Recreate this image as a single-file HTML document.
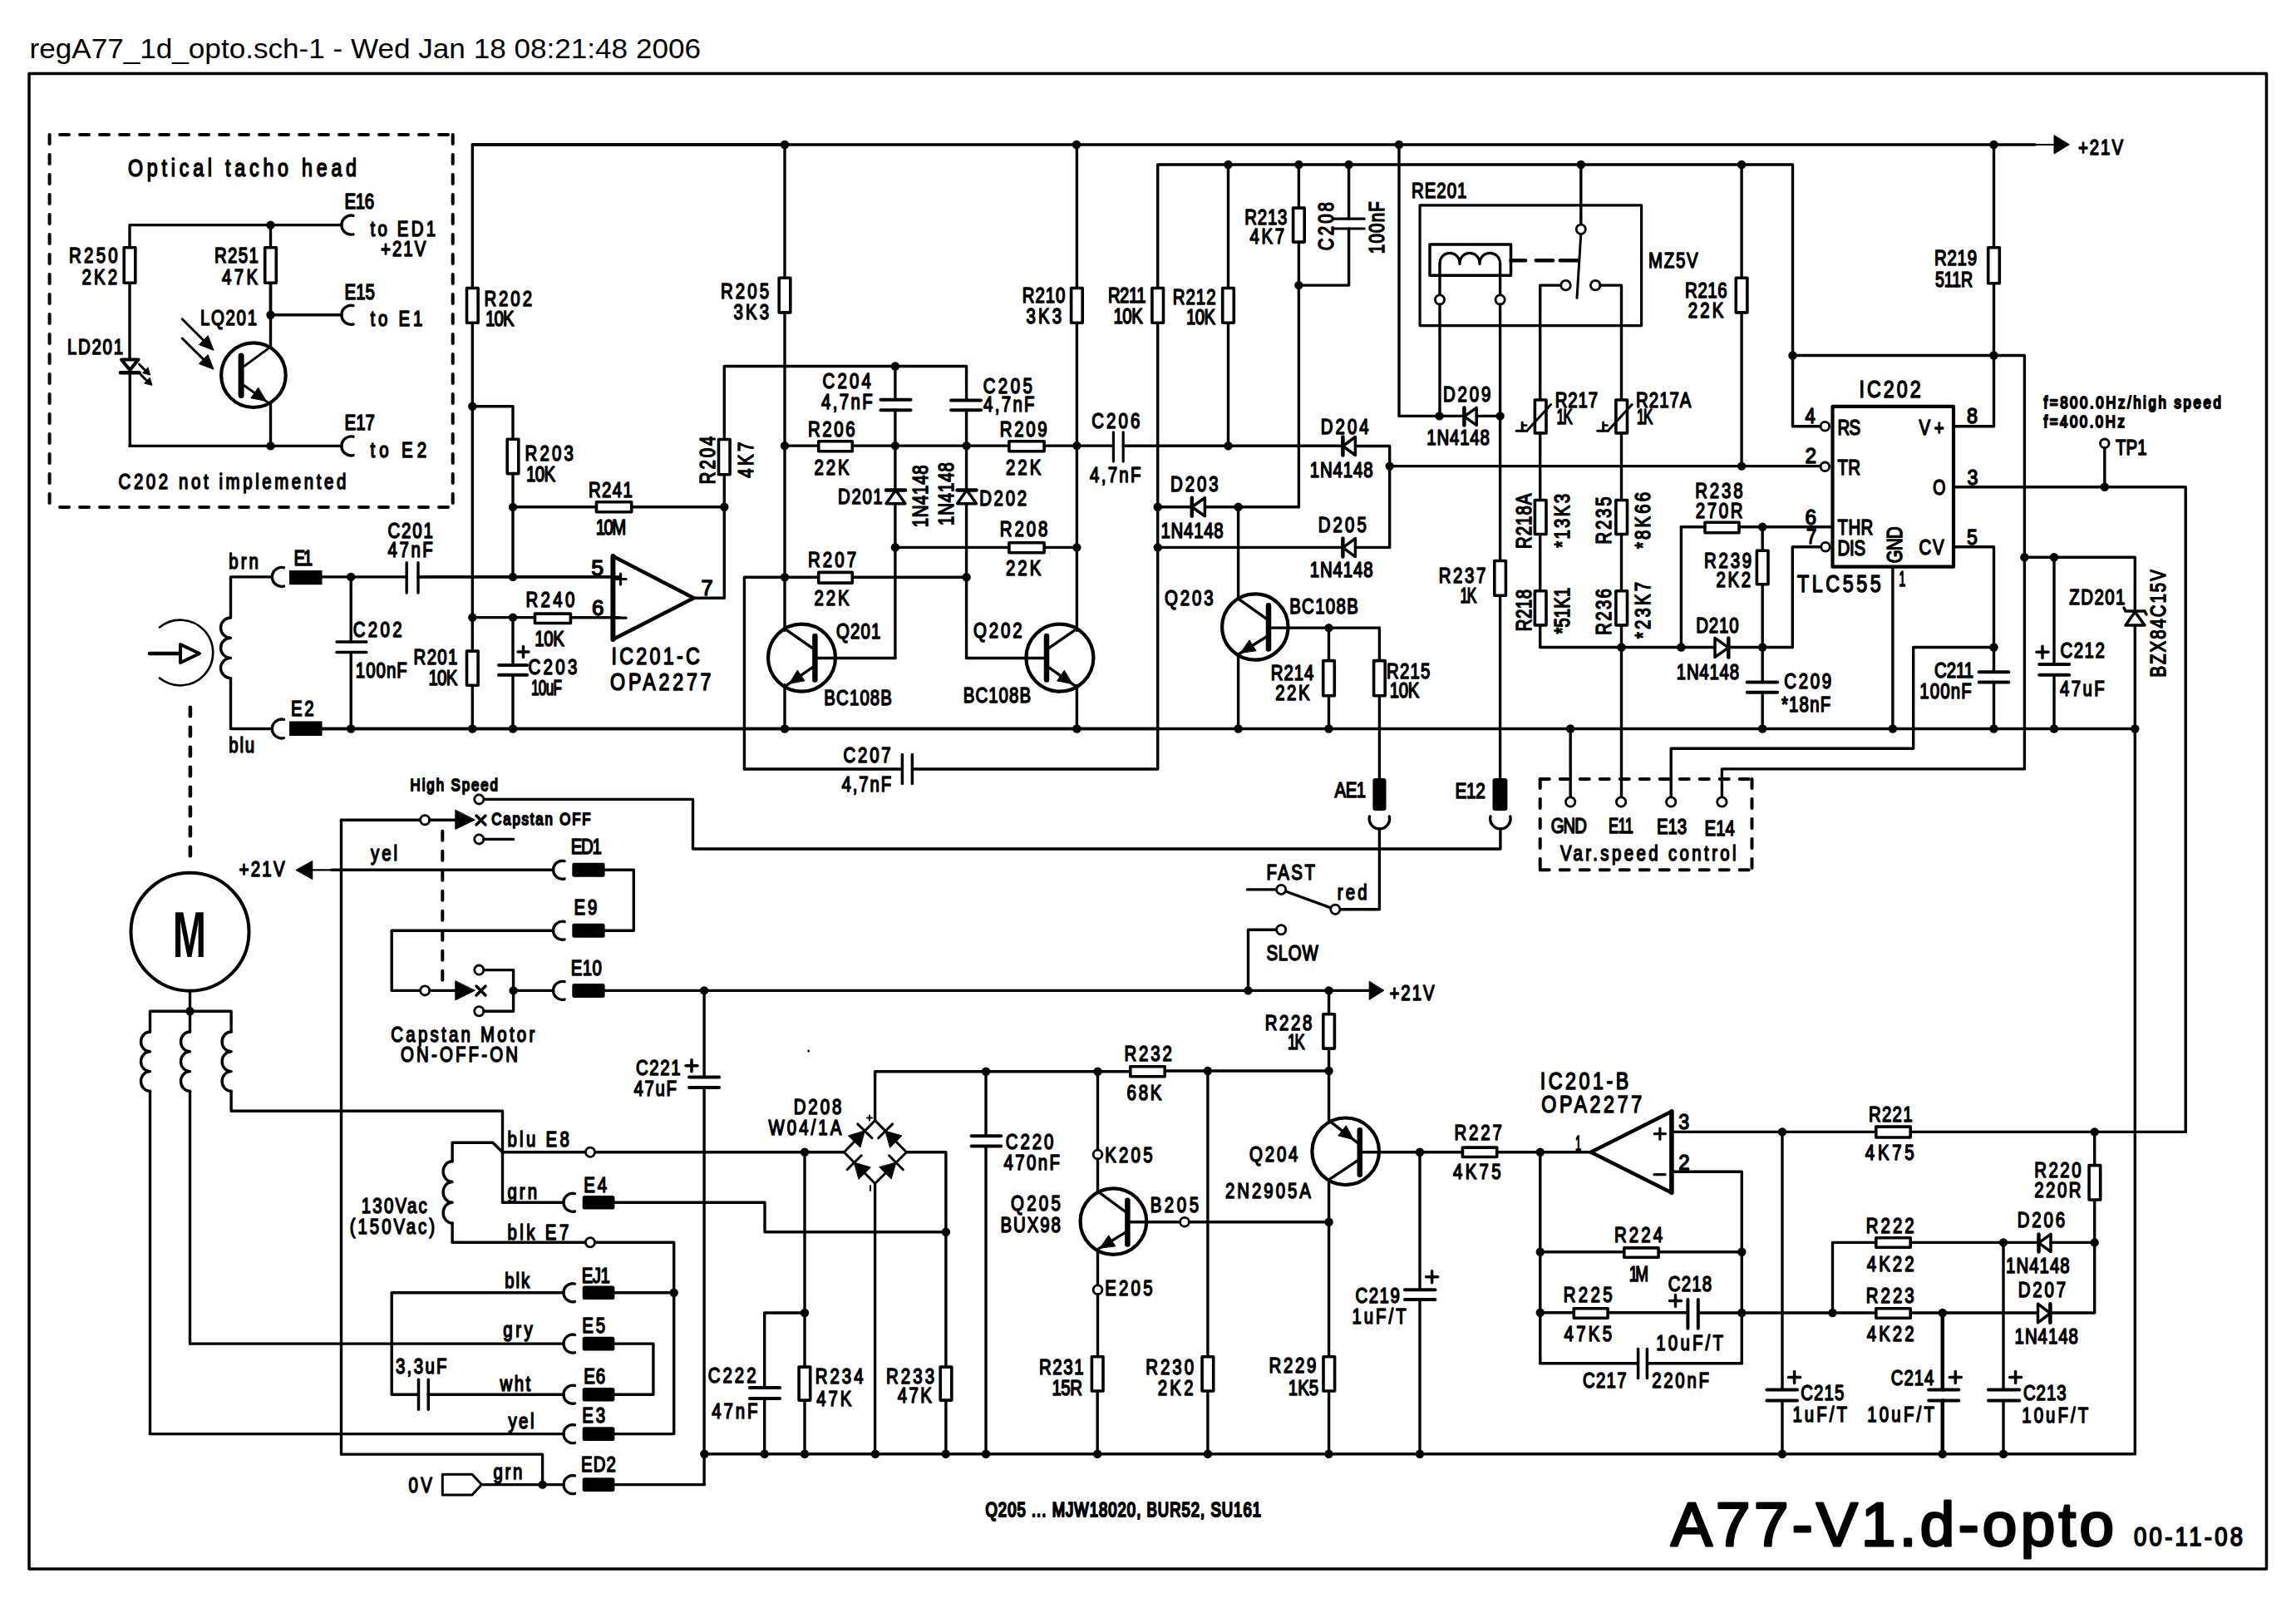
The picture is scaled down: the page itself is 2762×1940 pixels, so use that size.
<!DOCTYPE html>
<html><head><meta charset="utf-8"><title>A77-V1.d-opto</title>
<style>
html,body{margin:0;padding:0;background:#fff;}
svg{display:block;}
.t{font-family:"Liberation Sans",sans-serif;font-weight:normal;font-size:25.5px;fill:#000;stroke:#000;stroke-width:1.4px;stroke-linejoin:round;vector-effect:non-scaling-stroke;}
.sb{font-family:"Liberation Sans",sans-serif;font-weight:bold;fill:#000;stroke:none;}
.r{font-family:"Liberation Sans",sans-serif;font-weight:normal;fill:#000;stroke:none;}
</style></head><body>
<svg xmlns="http://www.w3.org/2000/svg" width="2762" height="1940" viewBox="0 0 2762 1940" stroke="#000" fill="none" stroke-linecap="round" stroke-linejoin="round">
<rect x="0" y="0" width="2762" height="1940" fill="#fff" stroke="none"/>
<text class="r" x="35.5" y="70" style="font-size:33px" textLength="807.5" lengthAdjust="spacingAndGlyphs">regA77_1d_opto.sch-1 - Wed Jan 18 08:21:48 2006</text>
<rect x="35" y="88.5" width="2691.5" height="1798.5" stroke-width="3.5"/>
<line x1="59.6" y1="161.9" x2="544.7" y2="161.9" stroke-width="4" stroke-dasharray="11 13" stroke-dashoffset="11.6"/>
<line x1="59.6" y1="609.9" x2="544.7" y2="609.9" stroke-width="4" stroke-dasharray="11 13" stroke-dashoffset="11.6"/>
<line x1="59.6" y1="161.9" x2="59.6" y2="609.9" stroke-width="4" stroke-dasharray="11 13" stroke-dashoffset="0"/>
<line x1="544.7" y1="161.9" x2="544.7" y2="609.9" stroke-width="4" stroke-dasharray="11 13" stroke-dashoffset="0"/>
<text class="t" transform="translate(154 211.7) scale(0.800 1)" x="0" y="0" style="font-size:29px" textLength="343.8" lengthAdjust="spacing">Optical tacho head</text>
<text class="t" transform="translate(414.5 250.5) scale(0.800 1)" x="0" y="0" style="font-size:25.5px" textLength="44.4" lengthAdjust="spacing">E16</text>
<polyline points="156,296 156,270.6 411,270.6" stroke-width="3.4"/>
<path d="M 425,259.4 A 11.5 11.5 0 1 0 425,281.8" stroke-width="3.4"/>
<circle cx="325.5" cy="270.6" r="5.2" fill="#000" stroke="none"/>
<text class="t" transform="translate(445.5 283.6) scale(0.800 1)" x="0" y="0" style="font-size:25.5px" textLength="98.1" lengthAdjust="spacing">to ED1</text>
<text class="t" transform="translate(458 307.6) scale(0.800 1)" x="0" y="0" style="font-size:25.5px" textLength="68" lengthAdjust="spacing">+21V</text>
<rect x="149.2" y="297.8" width="13.6" height="42.4" stroke-width="3.6" fill="#fff"/>
<text class="t" transform="translate(83 316) scale(0.800 1)" x="0" y="0" style="font-size:25.5px" textLength="73.4" lengthAdjust="spacing">R250</text>
<text class="t" transform="translate(98.6 342) scale(0.800 1)" x="0" y="0" style="font-size:25.5px" textLength="53" lengthAdjust="spacing">2K2</text>
<line x1="325.5" y1="270.6" x2="325.5" y2="296" stroke-width="3.4"/>
<rect x="318.7" y="297.8" width="13.6" height="42.4" stroke-width="3.6" fill="#fff"/>
<text class="t" transform="translate(258 316) scale(0.800 1)" x="0" y="0" style="font-size:25.5px" textLength="66.2" lengthAdjust="spacing">R251</text>
<text class="t" transform="translate(267 342) scale(0.800 1)" x="0" y="0" style="font-size:25.5px" textLength="53.8" lengthAdjust="spacing">47K</text>
<text class="t" transform="translate(414.5 359.6) scale(0.800 1)" x="0" y="0" style="font-size:25.5px" textLength="45.6" lengthAdjust="spacing">E15</text>
<line x1="325.5" y1="342" x2="325.5" y2="378.8" stroke-width="3.4"/>
<line x1="325.5" y1="378.8" x2="411" y2="378.8" stroke-width="3.4"/>
<path d="M 425,367.6 A 11.5 11.5 0 1 0 425,390" stroke-width="3.4"/>
<circle cx="325.5" cy="378.8" r="5.2" fill="#000" stroke="none"/>
<text class="t" transform="translate(445.5 392) scale(0.800 1)" x="0" y="0" style="font-size:25.5px" textLength="78.6" lengthAdjust="spacing">to E1</text>
<text class="t" transform="translate(241 391) scale(0.800 1)" x="0" y="0" style="font-size:25.5px" textLength="85" lengthAdjust="spacing">LQ201</text>
<text class="t" transform="translate(81 426) scale(0.800 1)" x="0" y="0" style="font-size:25.5px" textLength="83.8" lengthAdjust="spacing">LD201</text>
<line x1="156" y1="342" x2="156" y2="432" stroke-width="3.4"/>
<polygon points="146,432.5 166.5,432.5 156.3,445" stroke-width="4.2"/>
<line x1="145" y1="448.2" x2="167.5" y2="448.2" stroke-width="4.6"/>
<line x1="156.3" y1="448" x2="156.3" y2="536.4" stroke-width="3.4"/>
<line x1="167.5" y1="438.2" x2="176" y2="446.7" stroke-width="3"/>
<polygon points="180.3,451 171.5,448.5 177.8,442.2" fill="#000" stroke-width="1"/>
<line x1="169.3" y1="450.5" x2="178" y2="459.2" stroke-width="3"/>
<polygon points="182.6,463.3 173.7,461 180,454.5" fill="#000" stroke-width="1"/>
<circle cx="304.9" cy="451.2" r="38.8" stroke-width="4.2" fill="none"/>
<line x1="290.1" y1="428" x2="290.1" y2="475.5" stroke-width="7"/>
<line x1="293.8" y1="440.4" x2="324.9" y2="417.6" stroke-width="3"/>
<line x1="293.8" y1="463.8" x2="322.1" y2="483.9" stroke-width="3"/>
<polygon points="320,482.4 301.8,478.7 310.5,466.4" fill="#000" stroke-width="1"/>
<line x1="325.5" y1="342" x2="325.5" y2="418" stroke-width="3.4"/>
<line x1="325.5" y1="484" x2="325.5" y2="536.4" stroke-width="3.4"/>
<line x1="219.2" y1="383.7" x2="250" y2="414.5" stroke-width="3"/>
<polygon points="256.7,421.2 239.4,414.5 250,403.9" fill="#000" stroke-width="1"/>
<line x1="219.2" y1="407" x2="250" y2="437.4" stroke-width="3"/>
<polygon points="256.7,444.1 239.3,437.5 249.9,426.8" fill="#000" stroke-width="1"/>
<text class="t" transform="translate(414.5 517) scale(0.800 1)" x="0" y="0" style="font-size:25.5px" textLength="45.6" lengthAdjust="spacing">E17</text>
<polyline points="156,536.4 411,536.4" stroke-width="3.4"/>
<circle cx="325.5" cy="536.4" r="5.2" fill="#000" stroke="none"/>
<path d="M 425,525.2 A 11.5 11.5 0 1 0 425,547.6" stroke-width="3.4"/>
<text class="t" transform="translate(445.5 550) scale(0.800 1)" x="0" y="0" style="font-size:25.5px" textLength="84.4" lengthAdjust="spacing">to E2</text>
<text class="t" transform="translate(142.6 587.6) scale(0.800 1)" x="0" y="0" style="font-size:25.5px" textLength="342.1" lengthAdjust="spacing">C202 not implemented</text>
<polyline points="568.3,344.7 568.3,174 944,174" stroke-width="3.4"/>
<rect x="561.5" y="346.5" width="13.6" height="41.7" stroke-width="3.6" fill="#fff"/>
<text class="t" transform="translate(582.4 367.7) scale(0.800 1)" x="0" y="0" style="font-size:25.5px" textLength="72" lengthAdjust="spacing">R202</text>
<text class="t" transform="translate(584 392.2) scale(0.800 1)" x="0" y="0" style="font-size:25.5px" textLength="43.3" lengthAdjust="spacing">10K</text>
<line x1="568.3" y1="390" x2="568.3" y2="876.5" stroke-width="3.4"/>
<circle cx="568.3" cy="488.7" r="5.2" fill="#000" stroke="none"/>
<polyline points="568.3,488.7 617,488.7 617,526.5" stroke-width="3.4"/>
<rect x="610.2" y="528.3" width="13.6" height="41.3" stroke-width="3.6" fill="#fff"/>
<text class="t" transform="translate(631.5 553.5) scale(0.800 1)" x="0" y="0" style="font-size:25.5px" textLength="72.9" lengthAdjust="spacing">R203</text>
<text class="t" transform="translate(633 579.2) scale(0.800 1)" x="0" y="0" style="font-size:25.5px" textLength="43.8" lengthAdjust="spacing">10K</text>
<line x1="617" y1="571.4" x2="617" y2="693.9" stroke-width="3.4"/>
<circle cx="617" cy="609.9" r="5.2" fill="#000" stroke="none"/>
<circle cx="617" cy="693.9" r="5.2" fill="#000" stroke="none"/>
<polyline points="327.5,693.9 277.5,693.9 277.5,742.6" stroke-width="3.4"/>
<path d="M 341.5,682.7 A 11.5 11.5 0 1 0 341.5,705.1" stroke-width="3.4"/>
<rect x="348" y="686" width="39.5" height="17.2" fill="#000" stroke="none"/>
<text class="t" transform="translate(353.4 680) scale(0.800 1)" x="0" y="0" style="font-size:25.5px" textLength="28.3" lengthAdjust="spacing">E1</text>
<text class="t" transform="translate(275.3 683.7) scale(0.800 1)" x="0" y="0" style="font-size:25.5px" textLength="44.6" lengthAdjust="spacing">brn</text>
<line x1="387.5" y1="693.9" x2="489" y2="693.9" stroke-width="3.4"/>
<line x1="489.2" y1="676.8" x2="489.2" y2="713" stroke-width="3.4"/>
<line x1="503" y1="676.8" x2="503" y2="713" stroke-width="3.4"/>
<text class="t" transform="translate(466.6 646.5) scale(0.800 1)" x="0" y="0" style="font-size:25.5px" textLength="67.7" lengthAdjust="spacing">C201</text>
<text class="t" transform="translate(466.6 669.7) scale(0.800 1)" x="0" y="0" style="font-size:25.5px" textLength="67.7" lengthAdjust="spacing">47nF</text>
<line x1="503" y1="693.9" x2="745" y2="693.9" stroke-width="3.4"/>
<circle cx="422.2" cy="693.9" r="5.2" fill="#000" stroke="none"/>
<line x1="422.2" y1="693.9" x2="422.2" y2="772" stroke-width="3.4"/>
<line x1="405" y1="772" x2="440.8" y2="772" stroke-width="3.5"/>
<line x1="405" y1="784.4" x2="440.8" y2="784.4" stroke-width="3.5"/>
<line x1="422.2" y1="784.4" x2="422.2" y2="876.5" stroke-width="3.4"/>
<text class="t" transform="translate(424.7 765.8) scale(0.800 1)" x="0" y="0" style="font-size:25.5px" textLength="73.6" lengthAdjust="spacing">C202</text>
<text class="t" transform="translate(427.8 814.5) scale(0.800 1)" x="0" y="0" style="font-size:25.5px" textLength="77.5" lengthAdjust="spacing">100nF</text>
<path d="M 277.5,743 a 12 12.1 0 0 0 0,24.2 a 12 12.1 0 0 0 0,24.2 a 12 12.1 0 0 0 0,24.2" stroke-width="3.4"/>
<polyline points="277.5,815.6 277.5,876.5 327.5,876.5" stroke-width="3.4"/>
<path d="M 341.5,865.3 A 11.5 11.5 0 1 0 341.5,887.7" stroke-width="3.4"/>
<rect x="348" y="867.5" width="39.5" height="17.5" fill="#000" stroke="none"/>
<text class="t" transform="translate(350 861) scale(0.800 1)" x="0" y="0" style="font-size:25.5px" textLength="34.5" lengthAdjust="spacing">E2</text>
<text class="t" transform="translate(275.3 905) scale(0.800 1)" x="0" y="0" style="font-size:25.5px" textLength="38.4" lengthAdjust="spacing">blu</text>
<path d="M 192,754.4 A 39.4 39.4 0 1 1 192,815.6" stroke-width="2.6"/>
<line x1="180" y1="786" x2="217" y2="786" stroke-width="4.5"/>
<polygon points="217,775 240,786 217,797" stroke-width="4"/>
<line x1="228.9" y1="850.7" x2="228.9" y2="1031" stroke-width="4.5" stroke-dasharray="10.5 13.5" stroke-dashoffset="0"/>
<line x1="387.5" y1="876.5" x2="1395" y2="876.5" stroke-width="3.4"/>
<circle cx="422.2" cy="876.5" r="5.2" fill="#000" stroke="none"/>
<circle cx="568.3" cy="876.5" r="5.2" fill="#000" stroke="none"/>
<circle cx="617" cy="876.5" r="5.2" fill="#000" stroke="none"/>
<rect x="561.5" y="783.1" width="13.6" height="41.1" stroke-width="3.6" fill="#fff"/>
<text class="t" transform="translate(497.6 799) scale(0.800 1)" x="0" y="0" style="font-size:25.5px" textLength="65.9" lengthAdjust="spacing">R201</text>
<text class="t" transform="translate(515.5 823.8) scale(0.800 1)" x="0" y="0" style="font-size:25.5px" textLength="43.5" lengthAdjust="spacing">10K</text>
<line x1="568.3" y1="742.6" x2="642" y2="742.6" stroke-width="3.4"/>
<circle cx="568.3" cy="742.6" r="5.2" fill="#000" stroke="none"/>
<circle cx="617" cy="742.6" r="5.2" fill="#000" stroke="none"/>
<rect x="643.5" y="738.1" width="42.9" height="11.4" stroke-width="3.6" fill="#fff"/>
<text class="t" transform="translate(632.4 729.5) scale(0.800 1)" x="0" y="0" style="font-size:25.5px" textLength="73.6" lengthAdjust="spacing">R240</text>
<text class="t" transform="translate(643.3 777.3) scale(0.800 1)" x="0" y="0" style="font-size:25.5px" textLength="44.6" lengthAdjust="spacing">10K</text>
<line x1="688.2" y1="742.6" x2="745" y2="742.6" stroke-width="3.4"/>
<line x1="617" y1="742.6" x2="617" y2="800" stroke-width="3.4"/>
<line x1="600" y1="800" x2="634" y2="800" stroke-width="4"/>
<line x1="600" y1="811.7" x2="634" y2="811.7" stroke-width="4"/>
<line x1="617" y1="811.7" x2="617" y2="876.5" stroke-width="3.4"/>
<line x1="623" y1="784" x2="636" y2="784" stroke-width="3.5"/>
<line x1="629.5" y1="777.5" x2="629.5" y2="790.5" stroke-width="3.5"/>
<text class="t" transform="translate(635.5 811.4) scale(0.800 1)" x="0" y="0" style="font-size:25.5px" textLength="73.6" lengthAdjust="spacing">C203</text>
<text class="t" transform="translate(639 835.6) scale(0.671 1)" x="0" y="0" style="font-size:25.5px" textLength="55.2" lengthAdjust="spacing">10uF</text>
<line x1="568.3" y1="174" x2="2448" y2="174" stroke-width="3.5"/>
<line x1="2448" y1="174" x2="2472" y2="174" stroke-width="2.2"/>
<polygon points="2471,163 2471,185 2489,174" fill="#000" stroke-width="1"/>
<text class="t" transform="translate(2500 186) scale(0.800 1)" x="0" y="0" style="font-size:25.5px" textLength="67.5" lengthAdjust="spacing">+21V</text>
<circle cx="944" cy="174" r="5.2" fill="#000" stroke="none"/>
<circle cx="1295" cy="174" r="5.2" fill="#000" stroke="none"/>
<circle cx="1683" cy="174" r="5.2" fill="#000" stroke="none"/>
<circle cx="2398.5" cy="174" r="5.2" fill="#000" stroke="none"/>
<polyline points="1392.7,344.7 1392.7,198 2156.5,198 2156.5,512.7 2190,512.7" stroke-width="3.4"/>
<circle cx="1477.5" cy="198" r="5.2" fill="#000" stroke="none"/>
<circle cx="1562.4" cy="198" r="5.2" fill="#000" stroke="none"/>
<circle cx="1622.6" cy="198" r="5.2" fill="#000" stroke="none"/>
<circle cx="1901.8" cy="198" r="5.2" fill="#000" stroke="none"/>
<circle cx="2095.1" cy="198" r="5.2" fill="#000" stroke="none"/>
<line x1="944" y1="174" x2="944" y2="332.4" stroke-width="3.4"/>
<rect x="937.2" y="334.2" width="13.6" height="41.7" stroke-width="3.6" fill="#fff"/>
<text class="t" transform="translate(867 358.8) scale(0.800 1)" x="0" y="0" style="font-size:25.5px" textLength="72.5" lengthAdjust="spacing">R205</text>
<text class="t" transform="translate(882.6 384.4) scale(0.800 1)" x="0" y="0" style="font-size:25.5px" textLength="53" lengthAdjust="spacing">3K3</text>
<line x1="944" y1="377.7" x2="944" y2="758.4" stroke-width="3.4"/>
<circle cx="944" cy="536.1" r="5.2" fill="#000" stroke="none"/>
<circle cx="944" cy="694.2" r="5.2" fill="#000" stroke="none"/>
<polyline points="871.3,526.7 871.3,440.5 1162.6,440.5 1162.6,481.4" stroke-width="3.4"/>
<rect x="864.5" y="528.5" width="13.6" height="42.2" stroke-width="3.6" fill="#fff"/>
<text class="t" transform="translate(860.4 582.3) rotate(-90) scale(0.800 1)" x="0" y="0" style="font-size:25.5px" textLength="72.2" lengthAdjust="spacing">R204</text>
<text class="t" transform="translate(905.9 574.7) rotate(-90) scale(0.800 1)" x="0" y="0" style="font-size:25.5px" textLength="53.9" lengthAdjust="spacing">4K7</text>
<polyline points="871.3,572.5 871.3,719.3 834.6,719.3" stroke-width="3.4"/>
<circle cx="871.3" cy="609.7" r="5.2" fill="#000" stroke="none"/>
<line x1="617" y1="609.7" x2="715.7" y2="609.7" stroke-width="3.4"/>
<rect x="717.5" y="603.7" width="42.2" height="12" stroke-width="3.6" fill="#fff"/>
<line x1="761.5" y1="609.7" x2="871.3" y2="609.7" stroke-width="3.4"/>
<text class="t" transform="translate(707.9 597.9) scale(0.800 1)" x="0" y="0" style="font-size:25.5px" textLength="66.1" lengthAdjust="spacing">R241</text>
<text class="t" transform="translate(716.8 643.2) scale(0.799 1)" x="0" y="0" style="font-size:25.5px" textLength="45.6" lengthAdjust="spacing">10M</text>
<polygon points="737.4,669 737.4,769 834.6,719.3" stroke-width="4.5"/>
<line x1="737.4" y1="669" x2="737.4" y2="769" stroke-width="6"/>
<line x1="745" y1="694.3" x2="745" y2="694.3" stroke-width="3.4"/>
<line x1="740" y1="696.5" x2="753" y2="696.5" stroke-width="3.2"/>
<line x1="746.5" y1="690" x2="746.5" y2="703" stroke-width="3.2"/>
<line x1="739" y1="743.2" x2="753" y2="743.2" stroke-width="3.2"/>
<text class="t" transform="translate(711.3 691.9) scale(1.050 1)" x="0" y="0" style="font-size:25.5px">5</text>
<text class="t" transform="translate(712 740.3) scale(1.020 1)" x="0" y="0" style="font-size:25.5px">6</text>
<text class="t" transform="translate(843.6 715.8) scale(1.001 1)" x="0" y="0" style="font-size:25.5px">7</text>
<line x1="688.2" y1="742.6" x2="737.4" y2="742.6" stroke-width="3.4"/>
<line x1="503" y1="693.9" x2="737.4" y2="693.9" stroke-width="3.4"/>
<text class="t" transform="translate(735.4 798.5) scale(0.800 1)" x="0" y="0" style="font-size:29px" textLength="133" lengthAdjust="spacing">IC201-C</text>
<text class="t" transform="translate(734.1 830.2) scale(0.800 1)" x="0" y="0" style="font-size:29px" textLength="151.7" lengthAdjust="spacing">OPA2277</text>
<circle cx="1076.9" cy="440.5" r="5.2" fill="#000" stroke="none"/>
<line x1="1076.9" y1="440.5" x2="1076.9" y2="480.7" stroke-width="3.4"/>
<line x1="1059.5" y1="480.7" x2="1095.5" y2="480.7" stroke-width="4"/>
<line x1="1059.5" y1="493.2" x2="1095.5" y2="493.2" stroke-width="4"/>
<line x1="1076.9" y1="493.2" x2="1076.9" y2="589.6" stroke-width="3.4"/>
<text class="t" transform="translate(989.6 467) scale(0.800 1)" x="0" y="0" style="font-size:25.5px" textLength="72.7" lengthAdjust="spacing">C204</text>
<text class="t" transform="translate(988 492.2) scale(0.800 1)" x="0" y="0" style="font-size:25.5px" textLength="77.2" lengthAdjust="spacing">4,7nF</text>
<line x1="1144" y1="481.4" x2="1180" y2="481.4" stroke-width="4"/>
<line x1="1144" y1="493.2" x2="1180" y2="493.2" stroke-width="4"/>
<line x1="1162.6" y1="493.2" x2="1162.6" y2="589.6" stroke-width="3.4"/>
<text class="t" transform="translate(1182.7 472.9) scale(0.800 1)" x="0" y="0" style="font-size:25.5px" textLength="73.9" lengthAdjust="spacing">C205</text>
<text class="t" transform="translate(1183.1 495.2) scale(0.800 1)" x="0" y="0" style="font-size:25.5px" textLength="76.8" lengthAdjust="spacing">4,7nF</text>
<line x1="944" y1="536.1" x2="982.9" y2="536.1" stroke-width="3.4"/>
<rect x="984.7" y="530.7" width="40.6" height="12.1" stroke-width="3.6" fill="#fff"/>
<line x1="1027.1" y1="536.1" x2="1162.6" y2="536.1" stroke-width="3.4"/>
<text class="t" transform="translate(972 524.5) scale(0.800 1)" x="0" y="0" style="font-size:25.5px" textLength="70.9" lengthAdjust="spacing">R206</text>
<text class="t" transform="translate(979.6 571.3) scale(0.800 1)" x="0" y="0" style="font-size:25.5px" textLength="52.4" lengthAdjust="spacing">22K</text>
<circle cx="1076.9" cy="536.1" r="5.2" fill="#000" stroke="none"/>
<circle cx="1162.6" cy="536.1" r="5.2" fill="#000" stroke="none"/>
<line x1="1162.6" y1="536.1" x2="1212.1" y2="536.1" stroke-width="3.4"/>
<rect x="1213.9" y="530.7" width="42.2" height="12.1" stroke-width="3.6" fill="#fff"/>
<line x1="1257.9" y1="536.1" x2="1339.4" y2="536.1" stroke-width="3.4"/>
<text class="t" transform="translate(1202.8 524.9) scale(0.800 1)" x="0" y="0" style="font-size:25.5px" textLength="71.1" lengthAdjust="spacing">R209</text>
<text class="t" transform="translate(1210 571.3) scale(0.800 1)" x="0" y="0" style="font-size:25.5px" textLength="52.9" lengthAdjust="spacing">22K</text>
<circle cx="1295.4" cy="536.1" r="5.2" fill="#000" stroke="none"/>
<polygon points="1066,605.7 1089,605.7 1077.5,589.6" stroke-width="3.5" fill="#fff"/>
<line x1="1066" y1="589.6" x2="1089" y2="589.6" stroke-width="4.5"/>
<text class="t" transform="translate(1008.1 606.4) scale(0.800 1)" x="0" y="0" style="font-size:25.5px" textLength="67" lengthAdjust="spacing">D201</text>
<text class="t" transform="translate(1116.4 634.3) rotate(-90) scale(0.800 1)" x="0" y="0" style="font-size:25.5px" textLength="93.5" lengthAdjust="spacing">1N4148</text>
<polygon points="1151.5,605.7 1174.5,605.7 1163,589.6" stroke-width="3.5" fill="#fff"/>
<line x1="1151.5" y1="589.6" x2="1174.5" y2="589.6" stroke-width="4.5"/>
<text class="t" transform="translate(1178.2 608.2) scale(0.800 1)" x="0" y="0" style="font-size:25.5px" textLength="71.1" lengthAdjust="spacing">D202</text>
<text class="t" transform="translate(1147 632) rotate(-90) scale(0.800 1)" x="0" y="0" style="font-size:25.5px" textLength="94.7" lengthAdjust="spacing">1N4148</text>
<line x1="1076.9" y1="605.7" x2="1076.9" y2="791.5" stroke-width="3.4"/>
<circle cx="1076.9" cy="658.4" r="5.2" fill="#000" stroke="none"/>
<line x1="1162.6" y1="605.7" x2="1162.6" y2="791.5" stroke-width="3.4"/>
<circle cx="1162.6" cy="694.2" r="5.2" fill="#000" stroke="none"/>
<line x1="1076.9" y1="658.4" x2="1212.1" y2="658.4" stroke-width="3.4"/>
<rect x="1213.9" y="652.8" width="42.2" height="12" stroke-width="3.6" fill="#fff"/>
<line x1="1257.9" y1="658.4" x2="1295.4" y2="658.4" stroke-width="3.4"/>
<text class="t" transform="translate(1202.8 645.4) scale(0.800 1)" x="0" y="0" style="font-size:25.5px" textLength="72" lengthAdjust="spacing">R208</text>
<text class="t" transform="translate(1210 691.9) scale(0.800 1)" x="0" y="0" style="font-size:25.5px" textLength="52.9" lengthAdjust="spacing">22K</text>
<circle cx="1295.4" cy="658.4" r="5.2" fill="#000" stroke="none"/>
<polyline points="895.4,925 895.4,694.2 982.9,694.2" stroke-width="3.4"/>
<rect x="984.7" y="688.4" width="40.6" height="12.7" stroke-width="3.6" fill="#fff"/>
<line x1="1027.1" y1="694.2" x2="1162.6" y2="694.2" stroke-width="3.4"/>
<text class="t" transform="translate(972 681.6) scale(0.800 1)" x="0" y="0" style="font-size:25.5px" textLength="72.5" lengthAdjust="spacing">R207</text>
<text class="t" transform="translate(979.6 727.6) scale(0.800 1)" x="0" y="0" style="font-size:25.5px" textLength="52.4" lengthAdjust="spacing">22K</text>
<circle cx="964.5" cy="791.1" r="40.5" stroke-width="4.2" fill="none"/>
<line x1="980.4" y1="764.9" x2="980.4" y2="817.6" stroke-width="6.5"/>
<line x1="947.1" y1="758.4" x2="980" y2="781.3" stroke-width="3.4"/>
<line x1="980" y1="800.9" x2="947.1" y2="823.7" stroke-width="3.4"/>
<polygon points="949.6,822 959.3,806.1 967.8,818.5" fill="#000" stroke-width="1"/>
<line x1="980.4" y1="791.5" x2="1076.9" y2="791.5" stroke-width="3.4"/>
<line x1="944" y1="823.7" x2="944" y2="876.5" stroke-width="3.4"/>
<text class="t" transform="translate(1005.9 768.2) scale(0.800 1)" x="0" y="0" style="font-size:25.5px" textLength="66.7" lengthAdjust="spacing">Q201</text>
<text class="t" transform="translate(991.3 847.7) scale(0.800 1)" x="0" y="0" style="font-size:25.5px" textLength="102.1" lengthAdjust="spacing">BC108B</text>
<circle cx="1274.9" cy="791.1" r="40.5" stroke-width="4.2" fill="none"/>
<line x1="1259" y1="764.9" x2="1259" y2="817.6" stroke-width="6.5"/>
<line x1="1292.3" y1="758.4" x2="1259" y2="781.3" stroke-width="3.4"/>
<line x1="1259" y1="800.9" x2="1292.3" y2="824.2" stroke-width="3.4"/>
<polygon points="1289.8,822.5 1271.6,818.9 1280.2,806.6" fill="#000" stroke-width="1"/>
<line x1="1162.6" y1="791.5" x2="1259" y2="791.5" stroke-width="3.4"/>
<line x1="1295.4" y1="174" x2="1295.4" y2="344.7" stroke-width="3.4"/>
<rect x="1288.6" y="346.5" width="13.6" height="41.7" stroke-width="3.6" fill="#fff"/>
<text class="t" transform="translate(1229.7 364.3) scale(0.800 1)" x="0" y="0" style="font-size:25.5px" textLength="64.7" lengthAdjust="spacing">R210</text>
<text class="t" transform="translate(1234.6 388.9) scale(0.800 1)" x="0" y="0" style="font-size:25.5px" textLength="53" lengthAdjust="spacing">3K3</text>
<line x1="1295.4" y1="390" x2="1295.4" y2="758.4" stroke-width="3.4"/>
<line x1="1295.4" y1="824.2" x2="1295.4" y2="876.5" stroke-width="3.4"/>
<text class="t" transform="translate(1171 767.1) scale(0.800 1)" x="0" y="0" style="font-size:25.5px" textLength="73.2" lengthAdjust="spacing">Q202</text>
<text class="t" transform="translate(1158.8 844.9) scale(0.800 1)" x="0" y="0" style="font-size:25.5px" textLength="101.5" lengthAdjust="spacing">BC108B</text>
<circle cx="944" cy="876.5" r="5.2" fill="#000" stroke="none"/>
<circle cx="1295.4" cy="876.5" r="5.2" fill="#000" stroke="none"/>
<line x1="895.4" y1="925" x2="1085.4" y2="925" stroke-width="3.4"/>
<line x1="1085.4" y1="907.6" x2="1085.4" y2="942.4" stroke-width="3.5"/>
<line x1="1097.4" y1="907.6" x2="1097.4" y2="942.4" stroke-width="3.5"/>
<polyline points="1097.4,925 1392.7,925 1392.7,390" stroke-width="3.4"/>
<text class="t" transform="translate(1014.6 917.4) scale(0.800 1)" x="0" y="0" style="font-size:25.5px" textLength="71.4" lengthAdjust="spacing">C207</text>
<text class="t" transform="translate(1012.4 952.2) scale(0.800 1)" x="0" y="0" style="font-size:25.5px" textLength="74.9" lengthAdjust="spacing">4,7nF</text>
<line x1="1339.4" y1="519.8" x2="1339.4" y2="555" stroke-width="3.2"/>
<line x1="1351.2" y1="519.8" x2="1351.2" y2="555" stroke-width="3.2"/>
<text class="t" transform="translate(1313.3 515.3) scale(0.800 1)" x="0" y="0" style="font-size:25.5px" textLength="72.5" lengthAdjust="spacing">C206</text>
<text class="t" transform="translate(1311 580.3) scale(0.800 1)" x="0" y="0" style="font-size:25.5px" textLength="76.8" lengthAdjust="spacing">4,7nF</text>
<line x1="1351.2" y1="536.3" x2="1615.4" y2="536.3" stroke-width="3.4"/>
<circle cx="1477.5" cy="536.3" r="5.2" fill="#000" stroke="none"/>
<rect x="1385.9" y="346.5" width="13.6" height="41.7" stroke-width="3.6" fill="#fff"/>
<text class="t" transform="translate(1332.9 364.3) scale(0.793 1)" x="0" y="0" style="font-size:25.5px" textLength="57.6" lengthAdjust="spacing">R211</text>
<text class="t" transform="translate(1339.5 388.9) scale(0.800 1)" x="0" y="0" style="font-size:25.5px" textLength="44.1" lengthAdjust="spacing">10K</text>
<circle cx="1392.7" cy="609.7" r="5.2" fill="#000" stroke="none"/>
<circle cx="1392.7" cy="658.4" r="5.2" fill="#000" stroke="none"/>
<line x1="1477.5" y1="198" x2="1477.5" y2="344.7" stroke-width="3.4"/>
<rect x="1470.7" y="346.5" width="13.6" height="41.7" stroke-width="3.6" fill="#fff"/>
<text class="t" transform="translate(1410.8 366) scale(0.800 1)" x="0" y="0" style="font-size:25.5px" textLength="64.7" lengthAdjust="spacing">R212</text>
<text class="t" transform="translate(1426.9 390) scale(0.800 1)" x="0" y="0" style="font-size:25.5px" textLength="43.9" lengthAdjust="spacing">10K</text>
<line x1="1477.5" y1="390" x2="1477.5" y2="536.3" stroke-width="3.4"/>
<line x1="1562.4" y1="198" x2="1562.4" y2="248.3" stroke-width="3.4"/>
<rect x="1555.6" y="250.1" width="13.6" height="41" stroke-width="3.6" fill="#fff"/>
<text class="t" transform="translate(1497.2 269.9) scale(0.800 1)" x="0" y="0" style="font-size:25.5px" textLength="64.1" lengthAdjust="spacing">R213</text>
<text class="t" transform="translate(1503.4 292.9) scale(0.800 1)" x="0" y="0" style="font-size:25.5px" textLength="52.2" lengthAdjust="spacing">4K7</text>
<line x1="1562.4" y1="292.9" x2="1562.4" y2="609.7" stroke-width="3.4"/>
<circle cx="1562.4" cy="343.1" r="5.2" fill="#000" stroke="none"/>
<polyline points="1562.4,343.1 1622.6,343.1 1622.6,275" stroke-width="3.4"/>
<polyline points="1622.6,198 1622.6,263.2" stroke-width="3.4"/>
<line x1="1604.3" y1="263.2" x2="1641.2" y2="263.2" stroke-width="3.2"/>
<line x1="1604.3" y1="275" x2="1641.2" y2="275" stroke-width="3.2"/>
<text class="t" transform="translate(1603.9 301.2) rotate(-90) scale(0.800 1)" x="0" y="0" style="font-size:25.5px" textLength="72.7" lengthAdjust="spacing">C208</text>
<text class="t" transform="translate(1664.6 305.2) rotate(-90) scale(0.800 1)" x="0" y="0" style="font-size:25.5px" textLength="78.8" lengthAdjust="spacing">100nF</text>
<line x1="1392.7" y1="609.7" x2="1433.8" y2="609.7" stroke-width="3.4"/>
<polygon points="1449.4,598.7 1449.4,620.7 1433.8,609.7" stroke-width="3.5" fill="#fff"/>
<line x1="1433.8" y1="598.7" x2="1433.8" y2="620.7" stroke-width="4.5"/>
<line x1="1449.4" y1="609.7" x2="1562.4" y2="609.7" stroke-width="3.4"/>
<circle cx="1489.6" cy="609.7" r="5.2" fill="#000" stroke="none"/>
<text class="t" transform="translate(1408.1 590.8) scale(0.800 1)" x="0" y="0" style="font-size:25.5px" textLength="72" lengthAdjust="spacing">D203</text>
<text class="t" transform="translate(1396.5 646.6) scale(0.800 1)" x="0" y="0" style="font-size:25.5px" textLength="94" lengthAdjust="spacing">1N4148</text>
<polygon points="1630.4,525.5 1630.4,547.5 1615.4,536.5" stroke-width="3.5" fill="#fff"/>
<line x1="1615.4" y1="525.5" x2="1615.4" y2="547.5" stroke-width="4.5"/>
<polyline points="1630.4,536.5 1671.7,536.5 1671.7,658.4 1630.4,658.4" stroke-width="3.4"/>
<text class="t" transform="translate(1588.7 521.6) scale(0.800 1)" x="0" y="0" style="font-size:25.5px" textLength="72.5" lengthAdjust="spacing">D204</text>
<text class="t" transform="translate(1575.7 573.6) scale(0.800 1)" x="0" y="0" style="font-size:25.5px" textLength="94.9" lengthAdjust="spacing">1N4148</text>
<line x1="1392.7" y1="658.4" x2="1615.4" y2="658.4" stroke-width="3.4"/>
<polygon points="1630.4,647.6 1630.4,669.6 1615.4,658.6" stroke-width="3.5" fill="#fff"/>
<line x1="1615.4" y1="647.6" x2="1615.4" y2="669.6" stroke-width="4.5"/>
<text class="t" transform="translate(1585.8 639.9) scale(0.800 1)" x="0" y="0" style="font-size:25.5px" textLength="72.5" lengthAdjust="spacing">D205</text>
<text class="t" transform="translate(1575.7 694.1) scale(0.800 1)" x="0" y="0" style="font-size:25.5px" textLength="94.9" lengthAdjust="spacing">1N4148</text>
<circle cx="1671.7" cy="560.6" r="5.2" fill="#000" stroke="none"/>
<line x1="1671.7" y1="560.6" x2="2190" y2="560.6" stroke-width="3.4"/>
<circle cx="2095.1" cy="560.6" r="5.2" fill="#000" stroke="none"/>
<circle cx="1509.8" cy="754" r="39.7" stroke-width="4.2" fill="none"/>
<line x1="1526" y1="728.3" x2="1526" y2="780.6" stroke-width="6.5"/>
<line x1="1490" y1="720.3" x2="1523.3" y2="744.2" stroke-width="3.4"/>
<line x1="1523.3" y1="766" x2="1490" y2="786.7" stroke-width="3.4"/>
<polygon points="1492.5,785.1 1503,769.8 1510.9,782.5" fill="#000" stroke-width="1"/>
<line x1="1489.6" y1="609.7" x2="1489.6" y2="720.3" stroke-width="3.4"/>
<line x1="1489.6" y1="786.7" x2="1489.6" y2="876.5" stroke-width="3.4"/>
<line x1="1526" y1="755.1" x2="1659.4" y2="755.1" stroke-width="3.4"/>
<circle cx="1598.5" cy="755.1" r="5.2" fill="#000" stroke="none"/>
<text class="t" transform="translate(1401 728) scale(0.800 1)" x="0" y="0" style="font-size:25.5px" textLength="73.1" lengthAdjust="spacing">Q203</text>
<text class="t" transform="translate(1551.2 738.1) scale(0.800 1)" x="0" y="0" style="font-size:25.5px" textLength="103.2" lengthAdjust="spacing">BC108B</text>
<line x1="1598.5" y1="755.1" x2="1598.5" y2="792.8" stroke-width="3.4"/>
<rect x="1591.7" y="794.6" width="13.6" height="42.1" stroke-width="3.6" fill="#fff"/>
<line x1="1598.5" y1="838.5" x2="1598.5" y2="876.5" stroke-width="3.4"/>
<text class="t" transform="translate(1528.8 818.3) scale(0.800 1)" x="0" y="0" style="font-size:25.5px" textLength="64.5" lengthAdjust="spacing">R214</text>
<text class="t" transform="translate(1534.2 841.6) scale(0.800 1)" x="0" y="0" style="font-size:25.5px" textLength="51.7" lengthAdjust="spacing">22K</text>
<line x1="1659.4" y1="755.1" x2="1659.4" y2="792.8" stroke-width="3.4"/>
<rect x="1652.6" y="794.6" width="13.6" height="42.1" stroke-width="3.6" fill="#fff"/>
<line x1="1659.4" y1="838.5" x2="1659.4" y2="936" stroke-width="3.4"/>
<text class="t" transform="translate(1668.1 815.5) scale(0.800 1)" x="0" y="0" style="font-size:25.5px" textLength="65.4" lengthAdjust="spacing">R215</text>
<text class="t" transform="translate(1671.8 838.5) scale(0.800 1)" x="0" y="0" style="font-size:25.5px" textLength="44.4" lengthAdjust="spacing">10K</text>
<circle cx="1489.6" cy="876.5" r="5.2" fill="#000" stroke="none"/>
<circle cx="1598.5" cy="876.5" r="5.2" fill="#000" stroke="none"/>
<rect x="1651.4" y="935.9" width="16.1" height="39.1" rx="3" fill="#000" stroke="none"/>
<text class="t" transform="translate(1605.6 958.7) scale(0.800 1)" x="0" y="0" style="font-size:25.5px" textLength="46.9" lengthAdjust="spacing">AE1</text>
<path d="M 1647.5,982 A 12.2 12.2 0 1 0 1671.3,982" stroke-width="3.4"/>
<polyline points="1659.4,996.7 1659.4,1093.8 1612,1093.8" stroke-width="3.4"/>
<rect x="1795.5" y="935.9" width="17.9" height="39.1" rx="3" fill="#000" stroke="none"/>
<text class="t" transform="translate(1750.6 959.6) scale(0.800 1)" x="0" y="0" style="font-size:26px" textLength="45.3" lengthAdjust="spacing">E12</text>
<path d="M 1793,982 A 12.2 12.2 0 1 0 1816.8,982" stroke-width="3.4"/>
<polyline points="1804.9,996.7 1804.9,1021 833.5,1021 833.5,961.4 582,961.4" stroke-width="3.4"/>
<text class="t" transform="translate(1698 238.2) scale(0.800 1)" x="0" y="0" style="font-size:25.5px" textLength="83" lengthAdjust="spacing">RE201</text>
<rect x="1708.1" y="246.8" width="266.5" height="144.8" stroke-width="3.2"/>
<rect x="1720" y="294" width="97.5" height="37.3" stroke-width="3.5"/>
<path d="M 1732,317.5 C 1732,300 1756,300 1756,317.5 C 1756,300 1780,300 1780,317.5 C 1780,300 1804.6,300 1804.6,317.5" stroke-width="3.2"/>
<line x1="1732" y1="317.5" x2="1732" y2="355" stroke-width="3.4"/>
<line x1="1804.6" y1="317.5" x2="1804.6" y2="355" stroke-width="3.4"/>
<circle cx="1732" cy="360.5" r="5.6" stroke-width="2.8" fill="#fff"/>
<circle cx="1804.6" cy="360.5" r="5.6" stroke-width="2.8" fill="#fff"/>
<line x1="1732" y1="366" x2="1732" y2="500.4" stroke-width="3.4"/>
<line x1="1804.6" y1="366" x2="1804.6" y2="672.7" stroke-width="3.4"/>
<line x1="1817.5" y1="313.3" x2="1835" y2="313.3" stroke-width="4.5"/>
<line x1="1847.8" y1="313.3" x2="1868" y2="313.3" stroke-width="4.5"/>
<line x1="1876.8" y1="313.3" x2="1898.5" y2="313.3" stroke-width="4.5"/>
<line x1="1901.8" y1="198" x2="1901.8" y2="270" stroke-width="3.4"/>
<circle cx="1901.8" cy="275.7" r="5.6" stroke-width="2.8" fill="#fff"/>
<line x1="1901.8" y1="281.5" x2="1897" y2="358.3" stroke-width="3"/>
<circle cx="1883.5" cy="343.1" r="5.8" stroke-width="2.8" fill="#fff"/>
<circle cx="1919.2" cy="343.1" r="5.8" stroke-width="2.8" fill="#fff"/>
<polyline points="1877.7,343.1 1852.7,343.1 1852.7,479.2" stroke-width="3.4"/>
<polyline points="1925,343.1 1950.5,343.1 1950.5,479.2" stroke-width="3.4"/>
<text class="t" transform="translate(1982.9 322) scale(0.800 1)" x="0" y="0" style="font-size:25.5px" textLength="74.7" lengthAdjust="spacing">MZ5V</text>
<polyline points="1683,174 1683,500.4 1761.4,500.4" stroke-width="3.4"/>
<polygon points="1776.2,490.4 1776.2,511.4 1761.4,500.9" stroke-width="3.5" fill="#fff"/>
<line x1="1761.4" y1="490.4" x2="1761.4" y2="511.4" stroke-width="4.5"/>
<line x1="1776.2" y1="500.4" x2="1804.6" y2="500.4" stroke-width="3.4"/>
<circle cx="1731.5" cy="500.4" r="5.2" fill="#000" stroke="none"/>
<circle cx="1804.6" cy="500.4" r="5.2" fill="#000" stroke="none"/>
<text class="t" transform="translate(1736 482.5) scale(0.800 1)" x="0" y="0" style="font-size:25.5px" textLength="71.6" lengthAdjust="spacing">D209</text>
<text class="t" transform="translate(1716.3 535) scale(0.800 1)" x="0" y="0" style="font-size:25.5px" textLength="94.4" lengthAdjust="spacing">1N4148</text>
<rect x="1797.8" y="674.5" width="13.6" height="41.7" stroke-width="3.6" fill="#fff"/>
<text class="t" transform="translate(1730.8 700.8) scale(0.800 1)" x="0" y="0" style="font-size:25.5px" textLength="70.6" lengthAdjust="spacing">R237</text>
<text class="t" transform="translate(1756.5 725.1) scale(0.680 1)" x="0" y="0" style="font-size:25.5px" textLength="29" lengthAdjust="spacing">1K</text>
<line x1="1804.6" y1="718" x2="1804.6" y2="936" stroke-width="3.4"/>
<line x1="1852.7" y1="479.2" x2="1852.7" y2="778.3" stroke-width="3.4"/>
<rect x="1846.4" y="481" width="13.6" height="39.9" stroke-width="3.6" fill="#fff"/>
<line x1="1836.7" y1="518.2" x2="1865.7" y2="486.5" stroke-width="3"/>
<polyline points="1824.2,518.2 1836.7,518.2" stroke-width="3"/>
<line x1="1831.2" y1="508" x2="1831.2" y2="518.2" stroke-width="3"/>
<line x1="1831.2" y1="511.5" x2="1836.2" y2="511.5" stroke-width="2.5"/>
<text class="t" transform="translate(1870.8 489.6) scale(0.800 1)" x="0" y="0" style="font-size:25.5px" textLength="64.1" lengthAdjust="spacing">R217</text>
<text class="t" transform="translate(1872.6 510.4) scale(0.656 1)" x="0" y="0" style="font-size:25.5px" textLength="29" lengthAdjust="spacing">1K</text>
<rect x="1846.4" y="601.5" width="13.6" height="41" stroke-width="3.6" fill="#fff"/>
<text class="t" transform="translate(1841.8 660) rotate(-90) scale(0.800 1)" x="0" y="0" style="font-size:25.5px" textLength="82.9" lengthAdjust="spacing">R218A</text>
<text class="t" transform="translate(1888.2 658.8) rotate(-90) scale(0.800 1)" x="0" y="0" style="font-size:25.5px" textLength="81" lengthAdjust="spacing">*13K3</text>
<rect x="1846.4" y="710.8" width="13.6" height="41.1" stroke-width="3.6" fill="#fff"/>
<text class="t" transform="translate(1841.8 759.3) rotate(-90) scale(0.800 1)" x="0" y="0" style="font-size:25.5px" textLength="62.9" lengthAdjust="spacing">R218</text>
<text class="t" transform="translate(1888.2 762.6) rotate(-90) scale(0.800 1)" x="0" y="0" style="font-size:25.5px" textLength="69.8" lengthAdjust="spacing">*51K1</text>
<line x1="1950.5" y1="479.2" x2="1950.5" y2="958.8" stroke-width="3.4"/>
<rect x="1943.9" y="481" width="13.6" height="39.9" stroke-width="3.6" fill="#fff"/>
<line x1="1934.2" y1="518.2" x2="1963.2" y2="486.5" stroke-width="3"/>
<polyline points="1921.7,518.2 1934.2,518.2" stroke-width="3"/>
<line x1="1928.7" y1="508" x2="1928.7" y2="518.2" stroke-width="3"/>
<line x1="1928.7" y1="511.5" x2="1933.7" y2="511.5" stroke-width="2.5"/>
<text class="t" transform="translate(1968.1 489.6) scale(0.800 1)" x="0" y="0" style="font-size:25.5px" textLength="82.9" lengthAdjust="spacing">R217A</text>
<text class="t" transform="translate(1969 510.4) scale(0.663 1)" x="0" y="0" style="font-size:25.5px" textLength="29" lengthAdjust="spacing">1K</text>
<rect x="1943.9" y="601.5" width="13.6" height="41" stroke-width="3.6" fill="#fff"/>
<text class="t" transform="translate(1938.4 654.4) rotate(-90) scale(0.800 1)" x="0" y="0" style="font-size:25.5px" textLength="71.1" lengthAdjust="spacing">R235</text>
<text class="t" transform="translate(1985.3 660) rotate(-90) scale(0.800 1)" x="0" y="0" style="font-size:25.5px" textLength="85.1" lengthAdjust="spacing">*8K66</text>
<rect x="1943.9" y="710.8" width="13.6" height="41.1" stroke-width="3.6" fill="#fff"/>
<text class="t" transform="translate(1938.4 763.8) rotate(-90) scale(0.800 1)" x="0" y="0" style="font-size:25.5px" textLength="69.7" lengthAdjust="spacing">R236</text>
<text class="t" transform="translate(1985.3 768.2) rotate(-90) scale(0.800 1)" x="0" y="0" style="font-size:25.5px" textLength="85.3" lengthAdjust="spacing">*23K7</text>
<line x1="1852.7" y1="778.5" x2="2063" y2="778.5" stroke-width="3.4"/>
<circle cx="1950.5" cy="778.5" r="5.2" fill="#000" stroke="none"/>
<circle cx="2022.4" cy="778.5" r="5.2" fill="#000" stroke="none"/>
<circle cx="2120.2" cy="778.5" r="5.2" fill="#000" stroke="none"/>
<line x1="2095.1" y1="198" x2="2095.1" y2="332.4" stroke-width="3.4"/>
<rect x="2088.3" y="334.2" width="13.6" height="41.7" stroke-width="3.6" fill="#fff"/>
<line x1="2095.1" y1="377.7" x2="2095.1" y2="560.6" stroke-width="3.4"/>
<text class="t" transform="translate(2027 357.6) scale(0.800 1)" x="0" y="0" style="font-size:25.5px" textLength="63.4" lengthAdjust="spacing">R216</text>
<text class="t" transform="translate(2030.8 381.7) scale(0.800 1)" x="0" y="0" style="font-size:25.5px" textLength="53.1" lengthAdjust="spacing">22K</text>
<line x1="2398.5" y1="174" x2="2398.5" y2="296" stroke-width="3.4"/>
<rect x="2391.7" y="297.8" width="13.6" height="42.9" stroke-width="3.6" fill="#fff"/>
<text class="t" transform="translate(2327 319) scale(0.800 1)" x="0" y="0" style="font-size:25.5px" textLength="63.8" lengthAdjust="spacing">R219</text>
<text class="t" transform="translate(2328 345) scale(0.766 1)" x="0" y="0" style="font-size:25.5px" textLength="58.8" lengthAdjust="spacing">511R</text>
<polyline points="2398.5,342.5 2398.5,512.7 2350,512.7" stroke-width="3.4"/>
<circle cx="2156.5" cy="427.5" r="5.2" fill="#000" stroke="none"/>
<circle cx="2398.5" cy="427.5" r="5.2" fill="#000" stroke="none"/>
<polyline points="2156.5,427.5 2435.4,427.5 2435.4,924.9 2071.4,924.9 2071.4,959" stroke-width="3.4"/>
<text class="t" transform="translate(2236.5 477.8) scale(0.800 1)" x="0" y="0" style="font-size:29px" textLength="92.6" lengthAdjust="spacing">IC202</text>
<rect x="2204.5" y="488.8" width="145.5" height="192.9" stroke-width="4.2"/>
<circle cx="2195.4" cy="512.7" r="5.3" stroke-width="2.8" fill="#fff"/>
<circle cx="2195.4" cy="561.3" r="5.3" stroke-width="2.8" fill="#fff"/>
<circle cx="2196" cy="657.7" r="5.3" stroke-width="2.8" fill="#fff"/>
<text class="t" transform="translate(2171.5 509.3) scale(0.864 1)" x="0" y="0" style="font-size:25.5px">4</text>
<text class="t" transform="translate(2171.5 557.3) scale(0.956 1)" x="0" y="0" style="font-size:25.5px">2</text>
<text class="t" transform="translate(2171.5 630.6) scale(0.952 1)" x="0" y="0" style="font-size:25.5px">6</text>
<text class="t" transform="translate(2173 653.8) scale(0.863 1)" x="0" y="0" style="font-size:25.5px">7</text>
<text class="t" transform="translate(2366 509.3) scale(0.919 1)" x="0" y="0" style="font-size:25.5px">8</text>
<text class="t" transform="translate(2366.6 582.6) scale(0.910 1)" x="0" y="0" style="font-size:25.5px">3</text>
<text class="t" transform="translate(2366 654.6) scale(0.910 1)" x="0" y="0" style="font-size:25.5px">5</text>
<text class="t" transform="translate(2210.6 522.6) scale(0.800 1)" x="0" y="0" style="font-size:25.5px" textLength="34.3" lengthAdjust="spacing">RS</text>
<text class="t" transform="translate(2308.5 522.6) scale(0.800 1)" x="0" y="0" style="font-size:25.5px" textLength="37.6" lengthAdjust="spacing">V+</text>
<text class="t" transform="translate(2210.6 570.6) scale(0.800 1)" x="0" y="0" style="font-size:25.5px" textLength="34.3" lengthAdjust="spacing">TR</text>
<text class="t" transform="translate(2325.3 594.6) scale(0.764 1)" x="0" y="0" style="font-size:25.5px">O</text>
<text class="t" transform="translate(2210.6 643) scale(0.800 1)" x="0" y="0" style="font-size:25.5px" textLength="53.4" lengthAdjust="spacing">THR</text>
<text class="t" transform="translate(2210.6 667.9) scale(0.800 1)" x="0" y="0" style="font-size:25.5px" textLength="41.8" lengthAdjust="spacing">DIS</text>
<text class="t" transform="translate(2288 677.2) rotate(-90) scale(0.800 1)" x="0" y="0" style="font-size:25.5px" textLength="55" lengthAdjust="spacing">GND</text>
<text class="t" transform="translate(2308.5 667.4) scale(0.800 1)" x="0" y="0" style="font-size:25.5px" textLength="37.6" lengthAdjust="spacing">CV</text>
<text class="t" transform="translate(2161.9 712.4) scale(0.800 1)" x="0" y="0" style="font-size:29px" textLength="125.9" lengthAdjust="spacing">TLC555</text>
<text class="t" transform="translate(2284.5 705.2) scale(0.546 1)" x="0" y="0" style="font-size:25.5px">1</text>
<polyline points="2350,585.8 2629.2,585.8 2629.2,1361.4" stroke-width="3.4"/>
<circle cx="2531.8" cy="585.8" r="5.2" fill="#000" stroke="none"/>
<line x1="2531.8" y1="585.8" x2="2531.8" y2="538.6" stroke-width="3.4"/>
<circle cx="2531.8" cy="533.3" r="5.3" stroke-width="2.8" fill="#fff"/>
<text class="t" transform="translate(2545 546.6) scale(0.800 1)" x="0" y="0" style="font-size:25.5px" textLength="46.9" lengthAdjust="spacing">TP1</text>
<text class="t" transform="translate(2458.5 490.6) scale(0.800 1)" x="0" y="0" style="font-size:21px;stroke-width:2.0px" textLength="266.6" lengthAdjust="spacing">f=800.0Hz/high speed</text>
<text class="t" transform="translate(2458.5 514) scale(0.800 1)" x="0" y="0" style="font-size:21px;stroke-width:2.0px" textLength="121.6" lengthAdjust="spacing">f=400.0Hz</text>
<line x1="2022.4" y1="633.7" x2="2049.2" y2="633.7" stroke-width="3.4"/>
<rect x="2051" y="628.3" width="41" height="12.4" stroke-width="3.6" fill="#fff"/>
<line x1="2093.8" y1="633.7" x2="2204.5" y2="633.7" stroke-width="3.4"/>
<circle cx="2120.2" cy="633.7" r="5.2" fill="#000" stroke="none"/>
<text class="t" transform="translate(2039.2 599) scale(0.800 1)" x="0" y="0" style="font-size:25.5px" textLength="71.6" lengthAdjust="spacing">R238</text>
<text class="t" transform="translate(2039.8 622.5) scale(0.800 1)" x="0" y="0" style="font-size:25.5px" textLength="70.9" lengthAdjust="spacing">270R</text>
<line x1="2022.4" y1="633.7" x2="2022.4" y2="778.5" stroke-width="3.4"/>
<line x1="2120.2" y1="633.7" x2="2120.2" y2="660.4" stroke-width="3.4"/>
<rect x="2113.4" y="662.2" width="13.6" height="40.6" stroke-width="3.6" fill="#fff"/>
<line x1="2120.2" y1="704.6" x2="2120.2" y2="820.5" stroke-width="3.4"/>
<text class="t" transform="translate(2049.9 683.2) scale(0.800 1)" x="0" y="0" style="font-size:25.5px" textLength="71.6" lengthAdjust="spacing">R239</text>
<text class="t" transform="translate(2064.4 705.5) scale(0.800 1)" x="0" y="0" style="font-size:25.5px" textLength="52.1" lengthAdjust="spacing">2K2</text>
<polyline points="2190.7,657.7 2156.3,657.7 2156.3,778.5 2079.3,778.5" stroke-width="3.4"/>
<polygon points="2063,767.4 2063,790.4 2079.3,778.9" stroke-width="3.5" fill="#fff"/>
<line x1="2079.3" y1="767.4" x2="2079.3" y2="790.4" stroke-width="4.5"/>
<text class="t" transform="translate(2040.3 760.9) scale(0.800 1)" x="0" y="0" style="font-size:25.5px" textLength="64.1" lengthAdjust="spacing">D210</text>
<text class="t" transform="translate(2016.8 816.7) scale(0.800 1)" x="0" y="0" style="font-size:25.5px" textLength="94" lengthAdjust="spacing">1N4148</text>
<line x1="2101.7" y1="820.5" x2="2138.1" y2="820.5" stroke-width="4"/>
<line x1="2101.7" y1="832.8" x2="2138.1" y2="832.8" stroke-width="4"/>
<line x1="2120.2" y1="832.8" x2="2120.2" y2="876.5" stroke-width="3.4"/>
<text class="t" transform="translate(2146.3 827.9) scale(0.800 1)" x="0" y="0" style="font-size:25.5px" textLength="71.1" lengthAdjust="spacing">C209</text>
<text class="t" transform="translate(2143 855.8) scale(0.800 1)" x="0" y="0" style="font-size:25.5px" textLength="73.9" lengthAdjust="spacing">*18nF</text>
<line x1="2276.9" y1="681.7" x2="2276.9" y2="876.5" stroke-width="3.4"/>
<polyline points="2350,657.7 2398.5,657.7 2398.5,808.2" stroke-width="3.4"/>
<line x1="2380.7" y1="808.2" x2="2416.3" y2="808.2" stroke-width="4"/>
<line x1="2380.7" y1="820.5" x2="2416.3" y2="820.5" stroke-width="4"/>
<line x1="2398.5" y1="820.5" x2="2398.5" y2="876.5" stroke-width="3.4"/>
<circle cx="2398.5" cy="778.5" r="5.2" fill="#000" stroke="none"/>
<polyline points="2398.5,778.5 2301.7,778.5 2301.7,900.3 2010.2,900.3 2010.2,959" stroke-width="3.4"/>
<text class="t" transform="translate(2327.1 814.9) scale(0.800 1)" x="0" y="0" style="font-size:25.5px" textLength="58.6" lengthAdjust="spacing">C211</text>
<text class="t" transform="translate(2309.2 839.6) scale(0.800 1)" x="0" y="0" style="font-size:25.5px" textLength="78.1" lengthAdjust="spacing">100nF</text>
<circle cx="2435.4" cy="670.3" r="5.2" fill="#000" stroke="none"/>
<polyline points="2435.4,670.3 2568.3,670.3 2568.3,734.5" stroke-width="3.4"/>
<circle cx="2471" cy="670.3" r="5.2" fill="#000" stroke="none"/>
<line x1="2471" y1="670.3" x2="2471" y2="799" stroke-width="3.4"/>
<line x1="2453.2" y1="799" x2="2489.2" y2="799" stroke-width="4"/>
<line x1="2453.2" y1="811.8" x2="2489.2" y2="811.8" stroke-width="4"/>
<line x1="2471" y1="811.8" x2="2471" y2="876.5" stroke-width="3.4"/>
<line x1="2450" y1="784.3" x2="2464" y2="784.3" stroke-width="3.5"/>
<line x1="2457" y1="777.3" x2="2457" y2="791.3" stroke-width="3.5"/>
<text class="t" transform="translate(2478.5 790.5) scale(0.800 1)" x="0" y="0" style="font-size:25.5px" textLength="66.6" lengthAdjust="spacing">C212</text>
<text class="t" transform="translate(2477.9 836.9) scale(0.800 1)" x="0" y="0" style="font-size:25.5px" textLength="67.2" lengthAdjust="spacing">47uF</text>
<polygon points="2557,752 2580,752 2568.3,736" stroke-width="3.5" fill="#fff"/>
<polyline points="2555,731 2557,735 2580,735 2582,739" stroke-width="3.5"/>
<line x1="2568.3" y1="752" x2="2568.3" y2="1748.5" stroke-width="3.4"/>
<text class="t" transform="translate(2489.2 726.5) scale(0.800 1)" x="0" y="0" style="font-size:25.5px" textLength="84" lengthAdjust="spacing">ZD201</text>
<text class="t" transform="translate(2605 814.5) rotate(-90) scale(0.800 1)" x="0" y="0" style="font-size:25.5px" textLength="161.6" lengthAdjust="spacing">BZX84C15V</text>
<line x1="387.5" y1="876.5" x2="2568.3" y2="876.5" stroke-width="3.4"/>
<circle cx="1889.2" cy="876.5" r="5.2" fill="#000" stroke="none"/>
<circle cx="2120.2" cy="876.5" r="5.2" fill="#000" stroke="none"/>
<circle cx="2276.9" cy="876.5" r="5.2" fill="#000" stroke="none"/>
<circle cx="2398.5" cy="876.5" r="5.2" fill="#000" stroke="none"/>
<circle cx="2471" cy="876.5" r="5.2" fill="#000" stroke="none"/>
<circle cx="2568.3" cy="876.5" r="5.2" fill="#000" stroke="none"/>
<line x1="1889.2" y1="876.5" x2="1889.2" y2="959" stroke-width="3.4"/>
<line x1="1852.7" y1="937.1" x2="2107.5" y2="937.1" stroke-width="4" stroke-dasharray="11 13" stroke-dashoffset="0"/>
<line x1="1852.7" y1="1046.3" x2="2107.5" y2="1046.3" stroke-width="4" stroke-dasharray="11 13" stroke-dashoffset="0"/>
<line x1="1852.7" y1="937.1" x2="1852.7" y2="1046.3" stroke-width="4" stroke-dasharray="11 13" stroke-dashoffset="0"/>
<line x1="2107.5" y1="937.1" x2="2107.5" y2="1046.3" stroke-width="4" stroke-dasharray="11 13" stroke-dashoffset="0"/>
<circle cx="1889.2" cy="964.5" r="5.7" stroke-width="2.8" fill="#fff"/>
<circle cx="1950.1" cy="964.5" r="5.7" stroke-width="2.8" fill="#fff"/>
<circle cx="2010.2" cy="964.5" r="5.7" stroke-width="2.8" fill="#fff"/>
<circle cx="2071.4" cy="964.5" r="5.7" stroke-width="2.8" fill="#fff"/>
<text class="t" transform="translate(1865.7 1001.9) scale(0.796 1)" x="0" y="0" style="font-size:25.5px" textLength="54.2" lengthAdjust="spacing">GND</text>
<text class="t" transform="translate(1935 1001.9) scale(0.714 1)" x="0" y="0" style="font-size:25.5px" textLength="42" lengthAdjust="spacing">E11</text>
<text class="t" transform="translate(1993 1002.5) scale(0.800 1)" x="0" y="0" style="font-size:25.5px" textLength="45" lengthAdjust="spacing">E13</text>
<text class="t" transform="translate(2050.5 1005) scale(0.800 1)" x="0" y="0" style="font-size:25.5px" textLength="45.6" lengthAdjust="spacing">E14</text>
<text class="t" transform="translate(1877 1034.6) scale(0.800 1)" x="0" y="0" style="font-size:25.5px" textLength="264.5" lengthAdjust="spacing">Var.speed control</text>
<circle cx="228.5" cy="1120.7" r="71" stroke-width="4" fill="none"/>
<text class="sb" x="207.7" y="1151" style="font-size:78px" textLength="40.3" lengthAdjust="spacingAndGlyphs">M</text>
<circle cx="228.5" cy="1216.2" r="5.2" fill="#000" stroke="none"/>
<polyline points="180.5,1241 180.5,1216.2 278.1,1216.2 278.1,1241" stroke-width="3.4"/>
<line x1="228.5" y1="1191.7" x2="228.5" y2="1241" stroke-width="3.4"/>
<path d="M 180.5,1241 a 11 11.9 0 0 0 0,23.8 a 11 11.9 0 0 0 0,23.8 a 11 11.9 0 0 0 0,23.8" stroke-width="3.4"/>
<path d="M 228.5,1241 a 11 11.9 0 0 0 0,23.8 a 11 11.9 0 0 0 0,23.8 a 11 11.9 0 0 0 0,23.8" stroke-width="3.4"/>
<path d="M 278.1,1241 a 11 11.9 0 0 0 0,23.8 a 11 11.9 0 0 0 0,23.8 a 11 11.9 0 0 0 0,23.8" stroke-width="3.4"/>
<line x1="180.5" y1="1312.3" x2="180.5" y2="1724.6" stroke-width="3.4"/>
<line x1="228.5" y1="1312.3" x2="228.5" y2="1616.1" stroke-width="3.4"/>
<polyline points="278.1,1312.3 278.1,1336.2 604.5,1336.2 604.5,1446.3 678,1446.3" stroke-width="3.4"/>
<polygon points="356.2,1046.3 375.8,1035.4 375.8,1057.2" fill="#000" stroke-width="1"/>
<line x1="375.8" y1="1046.3" x2="399" y2="1046.3" stroke-width="2.2"/>
<line x1="399" y1="1046.3" x2="665.6" y2="1046.3" stroke-width="3.4"/>
<text class="t" transform="translate(287.4 1054) scale(0.800 1)" x="0" y="0" style="font-size:25.5px" textLength="69" lengthAdjust="spacing">+21V</text>
<text class="t" transform="translate(446.1 1034.9) scale(0.800 1)" x="0" y="0" style="font-size:25.5px" textLength="39.9" lengthAdjust="spacing">yel</text>
<line x1="410.5" y1="986.2" x2="410.5" y2="1749.1" stroke-width="3.4"/>
<line x1="410.5" y1="986.2" x2="505.6" y2="986.2" stroke-width="3.4"/>
<circle cx="511.2" cy="986.2" r="5.6" stroke-width="2.8" fill="#fff"/>
<line x1="516.8" y1="986.2" x2="548" y2="986.2" stroke-width="3.4"/>
<polygon points="547.8,974.4 547.8,997.4 571,986.2" fill="#000" stroke-width="1"/>
<line x1="573" y1="981" x2="584" y2="992" stroke-width="3.5"/>
<line x1="573" y1="992" x2="584" y2="981" stroke-width="3.5"/>
<text class="t" transform="translate(591.2 992) scale(0.800 1)" x="0" y="0" style="font-size:21px;stroke-width:1.8px" textLength="149.2" lengthAdjust="spacing">Capstan OFF</text>
<circle cx="576.3" cy="961.4" r="5.6" stroke-width="2.8" fill="#fff"/>
<text class="t" transform="translate(493.6 951.2) scale(0.800 1)" x="0" y="0" style="font-size:21px;stroke-width:1.8px" textLength="131.7" lengthAdjust="spacing">High Speed</text>
<circle cx="576.3" cy="1009.4" r="5.6" stroke-width="2.8" fill="#fff"/>
<line x1="582" y1="1009.4" x2="617.6" y2="1009.4" stroke-width="3.4"/>
<line x1="532.3" y1="999.7" x2="532.3" y2="1180.6" stroke-width="4" stroke-dasharray="11 13" stroke-dashoffset="0"/>
<path d="M 679.1,1035.6 A 11 11 0 1 0 679.1,1057" stroke-width="3.4"/>
<rect x="688.3" y="1037.8" width="39.3" height="17" rx="2.5" fill="#000" stroke="none"/>
<text class="t" transform="translate(686.7 1027.1) scale(0.800 1)" x="0" y="0" style="font-size:25.5px" textLength="46.5" lengthAdjust="spacing">ED1</text>
<path d="M 679.1,1108.5 A 11 11 0 1 0 679.1,1129.9" stroke-width="3.4"/>
<rect x="688.3" y="1110.7" width="39.3" height="17" rx="2.5" fill="#000" stroke="none"/>
<text class="t" transform="translate(690.4 1100) scale(0.800 1)" x="0" y="0" style="font-size:25.5px" textLength="34.9" lengthAdjust="spacing">E9</text>
<path d="M 679.1,1180.7 A 11 11 0 1 0 679.1,1202.1" stroke-width="3.4"/>
<rect x="688.3" y="1182.9" width="39.3" height="17" rx="2.5" fill="#000" stroke="none"/>
<text class="t" transform="translate(686.7 1172.8) scale(0.800 1)" x="0" y="0" style="font-size:25.5px" textLength="46.5" lengthAdjust="spacing">E10</text>
<polyline points="727.6,1046.3 762.3,1046.3 762.3,1119.2 727.6,1119.2" stroke-width="3.4"/>
<polyline points="665.6,1119.2 471.2,1119.2 471.2,1191.4 505.6,1191.4" stroke-width="3.4"/>
<circle cx="511.2" cy="1191.4" r="5.6" stroke-width="2.8" fill="#fff"/>
<line x1="516.8" y1="1191.4" x2="548" y2="1191.4" stroke-width="3.4"/>
<polygon points="547.8,1180 547.8,1202.8 571,1191.4" fill="#000" stroke-width="1"/>
<line x1="573" y1="1186" x2="584" y2="1197" stroke-width="3.5"/>
<line x1="573" y1="1197" x2="584" y2="1186" stroke-width="3.5"/>
<circle cx="576.3" cy="1166.6" r="5.6" stroke-width="2.8" fill="#fff"/>
<circle cx="576.3" cy="1216.2" r="5.6" stroke-width="2.8" fill="#fff"/>
<polyline points="582,1166.6 617.6,1166.6 617.6,1216.2 582,1216.2" stroke-width="3.4"/>
<circle cx="617.6" cy="1191.4" r="5.2" fill="#000" stroke="none"/>
<line x1="617.6" y1="1191.4" x2="665.6" y2="1191.4" stroke-width="3.4"/>
<text class="t" transform="translate(470.3 1253.4) scale(0.800 1)" x="0" y="0" style="font-size:25.5px" textLength="216.2" lengthAdjust="spacing">Capstan Motor</text>
<text class="t" transform="translate(482.1 1276.7) scale(0.800 1)" x="0" y="0" style="font-size:25.5px" textLength="176" lengthAdjust="spacing">ON-OFF-ON</text>
<line x1="727.6" y1="1191.4" x2="1648" y2="1191.4" stroke-width="3.4"/>
<line x1="1648" y1="1191.4" x2="1648" y2="1191.4" stroke-width="3.4"/>
<polygon points="1647.2,1180.5 1647.2,1202.3 1664.6,1191.4" fill="#000" stroke-width="1"/>
<text class="t" transform="translate(1671.4 1203.4) scale(0.800 1)" x="0" y="0" style="font-size:25.5px" textLength="67.9" lengthAdjust="spacing">+21V</text>
<circle cx="847.1" cy="1191.4" r="5.2" fill="#000" stroke="none"/>
<circle cx="1501.5" cy="1191.4" r="5.2" fill="#000" stroke="none"/>
<circle cx="1598.6" cy="1191.4" r="5.2" fill="#000" stroke="none"/>
<polyline points="1501.5,1191.4 1501.5,1118.3 1535.6,1118.3" stroke-width="3.4"/>
<circle cx="1541.2" cy="1118.3" r="5.6" stroke-width="2.8" fill="#fff"/>
<text class="t" transform="translate(1523.4 1155.2) scale(0.800 1)" x="0" y="0" style="font-size:25.5px" textLength="77.9" lengthAdjust="spacing">SLOW</text>
<line x1="1500.4" y1="1069.9" x2="1535.6" y2="1069.9" stroke-width="3.4"/>
<circle cx="1541.2" cy="1069.9" r="5.6" stroke-width="2.8" fill="#fff"/>
<line x1="1546.5" y1="1072" x2="1601" y2="1091.8" stroke-width="3.4"/>
<circle cx="1606.3" cy="1093.8" r="5.6" stroke-width="2.8" fill="#fff"/>
<text class="t" transform="translate(1523.4 1058.4) scale(0.800 1)" x="0" y="0" style="font-size:25.5px" textLength="73.1" lengthAdjust="spacing">FAST</text>
<text class="t" transform="translate(1608.7 1082.3) scale(0.800 1)" x="0" y="0" style="font-size:25.5px" textLength="44.9" lengthAdjust="spacing">red</text>
<line x1="847.1" y1="1191.4" x2="847.1" y2="1295.5" stroke-width="3.4"/>
<line x1="829.1" y1="1295.5" x2="865.1" y2="1295.5" stroke-width="4"/>
<line x1="829.1" y1="1307.9" x2="865.1" y2="1307.9" stroke-width="4"/>
<line x1="847.1" y1="1307.9" x2="847.1" y2="1785.6" stroke-width="3.4"/>
<line x1="825" y1="1281.8" x2="839" y2="1281.8" stroke-width="3.5"/>
<line x1="832" y1="1274.8" x2="832" y2="1288.8" stroke-width="3.5"/>
<text class="t" transform="translate(765 1292.7) scale(0.800 1)" x="0" y="0" style="font-size:25.5px" textLength="67" lengthAdjust="spacing">C221</text>
<text class="t" transform="translate(762.5 1318.1) scale(0.800 1)" x="0" y="0" style="font-size:25.5px" textLength="64.2" lengthAdjust="spacing">47uF</text>
<circle cx="972.7" cy="1263.9" r="1.5" fill="#000" stroke="none"/>
<polyline points="544.1,1396.7 544.1,1374.3 592.8,1374.3 604.5,1385.8 704.4,1385.8" stroke-width="3.4"/>
<path d="M 544.1,1396.7 a 11 12.4 0 0 0 0,24.8 a 11 12.4 0 0 0 0,24.8 a 11 12.4 0 0 0 0,24.8" stroke-width="3.4"/>
<polyline points="544.1,1471 544.1,1494.3 704.4,1494.3" stroke-width="3.4"/>
<circle cx="710" cy="1385.8" r="5.6" stroke-width="2.8" fill="#fff"/>
<circle cx="710" cy="1494.3" r="5.6" stroke-width="2.8" fill="#fff"/>
<text class="t" transform="translate(610.4 1379) scale(0.800 1)" x="0" y="0" style="font-size:25.5px" textLength="93" lengthAdjust="spacing">blu  E8</text>
<text class="t" transform="translate(610.4 1490.6) scale(0.800 1)" x="0" y="0" style="font-size:25.5px" textLength="92.3" lengthAdjust="spacing">blk  E7</text>
<text class="t" transform="translate(434.7 1458.7) scale(0.800 1)" x="0" y="0" style="font-size:25.5px" textLength="98.8" lengthAdjust="spacing">130Vac</text>
<text class="t" transform="translate(420.7 1483.5) scale(0.800 1)" x="0" y="0" style="font-size:25.5px" textLength="127.9" lengthAdjust="spacing">(150Vac)</text>
<text class="t" transform="translate(610.4 1442.2) scale(0.800 1)" x="0" y="0" style="font-size:25.5px" textLength="44.6" lengthAdjust="spacing">grn</text>
<path d="M 691.5,1435.6 A 11 11 0 1 0 691.5,1457" stroke-width="3.4"/>
<rect x="700.7" y="1438" width="38.7" height="16.6" rx="2.5" fill="#000" stroke="none"/>
<text class="t" transform="translate(702.2 1433.9) scale(0.800 1)" x="0" y="0" style="font-size:25.5px" textLength="34.9" lengthAdjust="spacing">E4</text>
<path d="M 691.5,1544.1 A 11 11 0 1 0 691.5,1565.5" stroke-width="3.4"/>
<rect x="700.7" y="1546.5" width="38.7" height="16.6" rx="2.5" fill="#000" stroke="none"/>
<text class="t" transform="translate(699.7 1543.3) scale(0.800 1)" x="0" y="0" style="font-size:25.5px" textLength="42.6" lengthAdjust="spacing">EJ1</text>
<path d="M 691.5,1605.4 A 11 11 0 1 0 691.5,1626.8" stroke-width="3.4"/>
<rect x="700.7" y="1607.8" width="38.7" height="16.6" rx="2.5" fill="#000" stroke="none"/>
<text class="t" transform="translate(700.3 1602.8) scale(0.800 1)" x="0" y="0" style="font-size:25.5px" textLength="34.9" lengthAdjust="spacing">E5</text>
<path d="M 691.5,1666.5 A 11 11 0 1 0 691.5,1687.9" stroke-width="3.4"/>
<rect x="700.7" y="1668.9" width="38.7" height="16.6" rx="2.5" fill="#000" stroke="none"/>
<text class="t" transform="translate(702.2 1664.2) scale(0.800 1)" x="0" y="0" style="font-size:25.5px" textLength="32.5" lengthAdjust="spacing">E6</text>
<path d="M 691.5,1713.9 A 11 11 0 1 0 691.5,1735.3" stroke-width="3.4"/>
<rect x="700.7" y="1716.3" width="38.7" height="16.6" rx="2.5" fill="#000" stroke="none"/>
<text class="t" transform="translate(700.3 1710.7) scale(0.800 1)" x="0" y="0" style="font-size:25.5px" textLength="34.9" lengthAdjust="spacing">E3</text>
<path d="M 691.5,1774.9 A 11 11 0 1 0 691.5,1796.3" stroke-width="3.4"/>
<rect x="700.7" y="1777.3" width="38.7" height="16.6" rx="2.5" fill="#000" stroke="none"/>
<text class="t" transform="translate(699.1 1770.2) scale(0.800 1)" x="0" y="0" style="font-size:25.5px" textLength="52.2" lengthAdjust="spacing">ED2</text>
<polyline points="715.6,1494.3 810.7,1494.3 810.7,1724.6 739.4,1724.6" stroke-width="3.4"/>
<line x1="739.4" y1="1554.8" x2="810.7" y2="1554.8" stroke-width="3.4"/>
<circle cx="810.7" cy="1554.8" r="5.2" fill="#000" stroke="none"/>
<polyline points="678,1554.8 471.2,1554.8 471.2,1677.2 503.5,1677.2" stroke-width="3.4"/>
<line x1="503.5" y1="1659.2" x2="503.5" y2="1695.2" stroke-width="3.5"/>
<line x1="515.3" y1="1659.2" x2="515.3" y2="1695.2" stroke-width="3.5"/>
<line x1="515.3" y1="1677.2" x2="678" y2="1677.2" stroke-width="3.4"/>
<text class="t" transform="translate(475.9 1652.4) scale(0.800 1)" x="0" y="0" style="font-size:25.5px" textLength="77.1" lengthAdjust="spacing">3,3uF</text>
<line x1="228.5" y1="1616.1" x2="678" y2="1616.1" stroke-width="3.4"/>
<polyline points="739.4,1616.1 785.9,1616.1 785.9,1677.2 739.4,1677.2" stroke-width="3.4"/>
<line x1="180.5" y1="1724.6" x2="678" y2="1724.6" stroke-width="3.4"/>
<text class="t" transform="translate(607.3 1548.6) scale(0.800 1)" x="0" y="0" style="font-size:25.5px" textLength="37.3" lengthAdjust="spacing">blk</text>
<text class="t" transform="translate(605.2 1607.5) scale(0.800 1)" x="0" y="0" style="font-size:25.5px" textLength="44.5" lengthAdjust="spacing">gry</text>
<text class="t" transform="translate(601.4 1672.6) scale(0.800 1)" x="0" y="0" style="font-size:25.5px" textLength="46.1" lengthAdjust="spacing">wht</text>
<text class="t" transform="translate(611.4 1717.5) scale(0.800 1)" x="0" y="0" style="font-size:25.5px" textLength="38.8" lengthAdjust="spacing">yel</text>
<polyline points="410.5,1749.1 652.6,1749.1 652.6,1785.6" stroke-width="3.4"/>
<circle cx="652.6" cy="1785.6" r="5.2" fill="#000" stroke="none"/>
<line x1="579.4" y1="1785.6" x2="678" y2="1785.6" stroke-width="3.4"/>
<polygon points="532.3,1773.3 568,1773.3 579.4,1785.6 568,1798.1 532.3,1798.1" stroke-width="3"/>
<text class="t" transform="translate(491.4 1795) scale(0.800 1)" x="0" y="0" style="font-size:25.5px" textLength="35.6" lengthAdjust="spacing">0V</text>
<text class="t" transform="translate(593.4 1778.9) scale(0.800 1)" x="0" y="0" style="font-size:25.5px" textLength="43.8" lengthAdjust="spacing">grn</text>
<polyline points="739.4,1785.6 847.4,1785.6" stroke-width="3.4"/>
<polyline points="715.6,1385.8 1015.4,1385.8" stroke-width="3.4"/>
<circle cx="968" cy="1385.8" r="5.2" fill="#000" stroke="none"/>
<polyline points="739.4,1446.3 920,1446.3 920,1481.8 1137.9,1481.8" stroke-width="3.4"/>
<circle cx="1137.9" cy="1481.8" r="5.2" fill="#000" stroke="none"/>
<polygon points="1015.4,1385.8 1052.6,1347.6 1090.5,1385.8 1052.6,1423.5" stroke-width="3"/>
<polygon points="1040.3,1360.3 1034.9,1380.1 1020.6,1366.2" fill="#000" stroke-width="1"/>
<line x1="1048.9" y1="1368.6" x2="1031.7" y2="1351.9" stroke-width="3"/>
<polygon points="1065.2,1360.3 1085,1366 1070.8,1380.1" fill="#000" stroke-width="1"/>
<line x1="1073.7" y1="1351.9" x2="1056.7" y2="1368.8" stroke-width="3"/>
<polygon points="1027.7,1398.2 1047.4,1404 1033.2,1418.1" fill="#000" stroke-width="1"/>
<line x1="1036.2" y1="1389.8" x2="1019.1" y2="1406.7" stroke-width="3"/>
<polygon points="1077.9,1398.3 1072.2,1418.1 1058.1,1403.9" fill="#000" stroke-width="1"/>
<line x1="1086.4" y1="1406.8" x2="1069.5" y2="1389.8" stroke-width="3"/>
<line x1="1043" y1="1344.5" x2="1049" y2="1344.5" stroke-width="2"/>
<line x1="1046" y1="1341.5" x2="1046" y2="1347.5" stroke-width="2"/>
<line x1="1047" y1="1426" x2="1047" y2="1432" stroke-width="2"/>
<text class="t" transform="translate(954.7 1340.4) scale(0.800 1)" x="0" y="0" style="font-size:25.5px" textLength="72" lengthAdjust="spacing">D208</text>
<text class="t" transform="translate(924.6 1365.2) scale(0.800 1)" x="0" y="0" style="font-size:25.5px" textLength="109.6" lengthAdjust="spacing">W04/1A</text>
<polyline points="1052.6,1347.6 1052.6,1288.7 1358,1288.7" stroke-width="3.4"/>
<polyline points="1090.5,1385.8 1137.9,1385.8 1137.9,1642.3" stroke-width="3.4"/>
<line x1="1052.6" y1="1423.5" x2="1052.6" y2="1749" stroke-width="3.4"/>
<circle cx="1186" cy="1288.7" r="5.2" fill="#000" stroke="none"/>
<circle cx="1320.5" cy="1288.7" r="5.2" fill="#000" stroke="none"/>
<line x1="968" y1="1385.8" x2="968" y2="1642.3" stroke-width="3.4"/>
<circle cx="968" cy="1579" r="5.2" fill="#000" stroke="none"/>
<polyline points="968,1579 919.7,1579 919.7,1669.1" stroke-width="3.4"/>
<line x1="902" y1="1669.1" x2="938" y2="1669.1" stroke-width="4"/>
<line x1="902" y1="1682" x2="938" y2="1682" stroke-width="4"/>
<line x1="919.7" y1="1682" x2="919.7" y2="1749" stroke-width="3.4"/>
<text class="t" transform="translate(851.7 1663) scale(0.800 1)" x="0" y="0" style="font-size:25.5px" textLength="72.4" lengthAdjust="spacing">C222</text>
<text class="t" transform="translate(856.3 1706.3) scale(0.800 1)" x="0" y="0" style="font-size:25.5px" textLength="69" lengthAdjust="spacing">47nF</text>
<rect x="961.1" y="1644.1" width="13.6" height="40" stroke-width="3.6" fill="#fff"/>
<line x1="968" y1="1685.9" x2="968" y2="1749" stroke-width="3.4"/>
<text class="t" transform="translate(980.7 1663.7) scale(0.800 1)" x="0" y="0" style="font-size:25.5px" textLength="72.4" lengthAdjust="spacing">R234</text>
<text class="t" transform="translate(982.2 1691.1) scale(0.800 1)" x="0" y="0" style="font-size:25.5px" textLength="52.6" lengthAdjust="spacing">47K</text>
<rect x="1131.2" y="1644.1" width="13.6" height="40" stroke-width="3.6" fill="#fff"/>
<line x1="1137.9" y1="1685.9" x2="1137.9" y2="1749" stroke-width="3.4"/>
<text class="t" transform="translate(1066 1663.7) scale(0.800 1)" x="0" y="0" style="font-size:25.5px" textLength="72.5" lengthAdjust="spacing">R233</text>
<text class="t" transform="translate(1079.8 1686.5) scale(0.800 1)" x="0" y="0" style="font-size:25.5px" textLength="51.4" lengthAdjust="spacing">47K</text>
<line x1="1186" y1="1288.7" x2="1186" y2="1366.2" stroke-width="3.4"/>
<line x1="1168.6" y1="1366.2" x2="1204.2" y2="1366.2" stroke-width="4"/>
<line x1="1168.6" y1="1378.6" x2="1204.2" y2="1378.6" stroke-width="4"/>
<line x1="1186" y1="1378.6" x2="1186" y2="1749" stroke-width="3.4"/>
<text class="t" transform="translate(1209.8 1381.7) scale(0.800 1)" x="0" y="0" style="font-size:25.5px" textLength="71.8" lengthAdjust="spacing">C220</text>
<text class="t" transform="translate(1207.6 1407.1) scale(0.800 1)" x="0" y="0" style="font-size:25.5px" textLength="84.1" lengthAdjust="spacing">470nF</text>
<rect x="1359.8" y="1282.8" width="41.4" height="11.9" stroke-width="3.6" fill="#fff"/>
<text class="t" transform="translate(1352.4 1276.3) scale(0.800 1)" x="0" y="0" style="font-size:25.5px" textLength="71.7" lengthAdjust="spacing">R232</text>
<text class="t" transform="translate(1355.5 1322.8) scale(0.800 1)" x="0" y="0" style="font-size:25.5px" textLength="52.4" lengthAdjust="spacing">68K</text>
<line x1="1403" y1="1288" x2="1598.6" y2="1288" stroke-width="3.4"/>
<circle cx="1452.9" cy="1288" r="5.2" fill="#000" stroke="none"/>
<circle cx="1598.6" cy="1288" r="5.2" fill="#000" stroke="none"/>
<line x1="1320.5" y1="1288.7" x2="1320.5" y2="1383" stroke-width="3.4"/>
<circle cx="1320.5" cy="1388.5" r="5.4" stroke-width="2.8" fill="#fff"/>
<line x1="1320.5" y1="1394" x2="1320.5" y2="1432.8" stroke-width="3.4"/>
<circle cx="1339.4" cy="1469.1" r="39.8" stroke-width="4.2" fill="none"/>
<line x1="1356.4" y1="1443.7" x2="1356.4" y2="1496.4" stroke-width="6.5"/>
<line x1="1320.5" y1="1432.8" x2="1356" y2="1459" stroke-width="3.4"/>
<line x1="1356" y1="1480.9" x2="1320.5" y2="1502.6" stroke-width="3.4"/>
<polygon points="1323.1,1501 1333.7,1485.8 1341.5,1498.6" fill="#000" stroke-width="1"/>
<line x1="1320.5" y1="1502.6" x2="1320.5" y2="1545.8" stroke-width="3.4"/>
<circle cx="1320.5" cy="1551.2" r="5.4" stroke-width="2.8" fill="#fff"/>
<line x1="1320.5" y1="1556.6" x2="1320.5" y2="1630" stroke-width="3.4"/>
<line x1="1356.4" y1="1469.8" x2="1419.6" y2="1469.8" stroke-width="3.4"/>
<circle cx="1425" cy="1469.8" r="5.4" stroke-width="2.8" fill="#fff"/>
<line x1="1430.4" y1="1469.8" x2="1598.6" y2="1469.8" stroke-width="3.4"/>
<circle cx="1598.6" cy="1469.8" r="5.2" fill="#000" stroke="none"/>
<text class="t" transform="translate(1329.2 1398.1) scale(0.800 1)" x="0" y="0" style="font-size:25.5px" textLength="71.6" lengthAdjust="spacing">K205</text>
<text class="t" transform="translate(1329.2 1558.4) scale(0.800 1)" x="0" y="0" style="font-size:25.5px" textLength="71.6" lengthAdjust="spacing">E205</text>
<text class="t" transform="translate(1216 1456) scale(0.800 1)" x="0" y="0" style="font-size:25.5px" textLength="74.7" lengthAdjust="spacing">Q205</text>
<text class="t" transform="translate(1203.6 1482.4) scale(0.800 1)" x="0" y="0" style="font-size:25.5px" textLength="90.3" lengthAdjust="spacing">BUX98</text>
<text class="t" transform="translate(1383.7 1458.2) scale(0.800 1)" x="0" y="0" style="font-size:25.5px" textLength="72.9" lengthAdjust="spacing">B205</text>
<rect x="1313.4" y="1631.8" width="13.6" height="41.2" stroke-width="3.6" fill="#fff"/>
<line x1="1320.2" y1="1674.8" x2="1320.2" y2="1749" stroke-width="3.4"/>
<text class="t" transform="translate(1250.1 1653.4) scale(0.800 1)" x="0" y="0" style="font-size:25.5px" textLength="66.8" lengthAdjust="spacing">R231</text>
<text class="t" transform="translate(1265.4 1677.7) scale(0.800 1)" x="0" y="0" style="font-size:25.5px" textLength="45.7" lengthAdjust="spacing">15R</text>
<line x1="1452.9" y1="1288" x2="1452.9" y2="1630" stroke-width="3.4"/>
<rect x="1446.1" y="1631.8" width="13.6" height="41.2" stroke-width="3.6" fill="#fff"/>
<line x1="1452.9" y1="1674.8" x2="1452.9" y2="1749" stroke-width="3.4"/>
<text class="t" transform="translate(1378.2 1653.4) scale(0.800 1)" x="0" y="0" style="font-size:25.5px" textLength="72.4" lengthAdjust="spacing">R230</text>
<text class="t" transform="translate(1392.8 1677.7) scale(0.800 1)" x="0" y="0" style="font-size:25.5px" textLength="53.4" lengthAdjust="spacing">2K2</text>
<line x1="1598.6" y1="1191.4" x2="1598.6" y2="1218" stroke-width="3.4"/>
<rect x="1591.8" y="1219.8" width="13.6" height="41.3" stroke-width="3.6" fill="#fff"/>
<line x1="1598.6" y1="1262.9" x2="1598.6" y2="1347.6" stroke-width="3.4"/>
<text class="t" transform="translate(1521.7 1239) scale(0.800 1)" x="0" y="0" style="font-size:25.5px" textLength="70.9" lengthAdjust="spacing">R228</text>
<text class="t" transform="translate(1549 1262.3) scale(0.715 1)" x="0" y="0" style="font-size:25.5px" textLength="29" lengthAdjust="spacing">1K</text>
<circle cx="1618.7" cy="1384.8" r="40.3" stroke-width="4.2" fill="none"/>
<line x1="1635.8" y1="1359.3" x2="1635.8" y2="1412.7" stroke-width="6.5"/>
<line x1="1635" y1="1394.7" x2="1598.6" y2="1418.9" stroke-width="3.4"/>
<line x1="1635" y1="1376" x2="1598.6" y2="1347.6" stroke-width="3.4"/>
<polygon points="1627.9,1370.5 1609.9,1365.9 1619.1,1354.1" fill="#000" stroke-width="1"/>
<line x1="1598.6" y1="1418.9" x2="1598.6" y2="1630" stroke-width="3.4"/>
<rect x="1592" y="1631.8" width="13.6" height="41.2" stroke-width="3.6" fill="#fff"/>
<line x1="1598.6" y1="1674.8" x2="1598.6" y2="1749" stroke-width="3.4"/>
<text class="t" transform="translate(1526.6 1651.2) scale(0.800 1)" x="0" y="0" style="font-size:25.5px" textLength="71" lengthAdjust="spacing">R229</text>
<text class="t" transform="translate(1549.8 1677.7) scale(0.800 1)" x="0" y="0" style="font-size:25.5px" textLength="45.4" lengthAdjust="spacing">1K5</text>
<text class="t" transform="translate(1503.1 1397.2) scale(0.800 1)" x="0" y="0" style="font-size:25.5px" textLength="72.9" lengthAdjust="spacing">Q204</text>
<text class="t" transform="translate(1473.9 1440.6) scale(0.800 1)" x="0" y="0" style="font-size:25.5px" textLength="128.8" lengthAdjust="spacing">2N2905A</text>
<line x1="1635.8" y1="1385.7" x2="1757.6" y2="1385.7" stroke-width="3.4"/>
<circle cx="1708" cy="1385.7" r="5.2" fill="#000" stroke="none"/>
<line x1="1708" y1="1385.7" x2="1708" y2="1551.2" stroke-width="3.4"/>
<line x1="1690" y1="1551.2" x2="1726.4" y2="1551.2" stroke-width="4"/>
<line x1="1690" y1="1563" x2="1726.4" y2="1563" stroke-width="4"/>
<line x1="1708" y1="1563" x2="1708" y2="1749" stroke-width="3.4"/>
<line x1="1715.6" y1="1535.7" x2="1729.6" y2="1535.7" stroke-width="3.5"/>
<line x1="1722.6" y1="1528.7" x2="1722.6" y2="1542.7" stroke-width="3.5"/>
<text class="t" transform="translate(1630.5 1566.7) scale(0.800 1)" x="0" y="0" style="font-size:25.5px" textLength="66.6" lengthAdjust="spacing">C219</text>
<text class="t" transform="translate(1626.5 1591.8) scale(0.800 1)" x="0" y="0" style="font-size:25.5px" textLength="81.4" lengthAdjust="spacing">1uF/T</text>
<rect x="1759.4" y="1380.1" width="41.3" height="11.4" stroke-width="3.6" fill="#fff"/>
<text class="t" transform="translate(1749.5 1370.8) scale(0.800 1)" x="0" y="0" style="font-size:25.5px" textLength="71.8" lengthAdjust="spacing">R227</text>
<text class="t" transform="translate(1748 1418.2) scale(0.800 1)" x="0" y="0" style="font-size:25.5px" textLength="72" lengthAdjust="spacing">4K75</text>
<line x1="1802.5" y1="1385.7" x2="1913.8" y2="1385.7" stroke-width="3.4"/>
<circle cx="1852.8" cy="1385.7" r="5.2" fill="#000" stroke="none"/>
<text class="t" transform="translate(1895 1383.8) scale(0.500 1)" x="0" y="0" style="font-size:25.5px">1</text>
<polygon points="2010.9,1336.7 2010.9,1434.4 1913.8,1385.7" stroke-width="4.5"/>
<line x1="2010.9" y1="1336.7" x2="2010.9" y2="1434.4" stroke-width="5.5"/>
<line x1="1990.4" y1="1363.7" x2="2003.4" y2="1363.7" stroke-width="3.2"/>
<line x1="1996.9" y1="1357.2" x2="1996.9" y2="1370.2" stroke-width="3.2"/>
<line x1="1990" y1="1412.7" x2="2003" y2="1412.7" stroke-width="3.2"/>
<text class="t" transform="translate(2019.2 1358.4) scale(0.910 1)" x="0" y="0" style="font-size:25.5px">3</text>
<text class="t" transform="translate(2019.2 1406.5) scale(0.947 1)" x="0" y="0" style="font-size:25.5px">2</text>
<text class="t" transform="translate(1852.8 1310.4) scale(0.800 1)" x="0" y="0" style="font-size:29px" textLength="132.9" lengthAdjust="spacing">IC201-B</text>
<text class="t" transform="translate(1854.3 1338.3) scale(0.800 1)" x="0" y="0" style="font-size:29px" textLength="151.1" lengthAdjust="spacing">OPA2277</text>
<line x1="1852.8" y1="1385.7" x2="1852.8" y2="1639.8" stroke-width="3.4"/>
<circle cx="1852.8" cy="1505.7" r="5.2" fill="#000" stroke="none"/>
<circle cx="1852.8" cy="1578.8" r="5.2" fill="#000" stroke="none"/>
<line x1="1852.8" y1="1505.7" x2="1952" y2="1505.7" stroke-width="3.4"/>
<rect x="1953.8" y="1500.9" width="41.3" height="11.4" stroke-width="3.6" fill="#fff"/>
<line x1="1996.9" y1="1505.7" x2="2095.3" y2="1505.7" stroke-width="3.4"/>
<text class="t" transform="translate(1942 1494.2) scale(0.800 1)" x="0" y="0" style="font-size:25.5px" textLength="72.5" lengthAdjust="spacing">R224</text>
<text class="t" transform="translate(1959.7 1540.7) scale(0.742 1)" x="0" y="0" style="font-size:25.5px" textLength="31.4" lengthAdjust="spacing">1M</text>
<line x1="1852.8" y1="1578.8" x2="1891.5" y2="1578.8" stroke-width="3.4"/>
<rect x="1893.3" y="1573.8" width="40.8" height="11.4" stroke-width="3.6" fill="#fff"/>
<line x1="1935.9" y1="1578.8" x2="2030.4" y2="1578.8" stroke-width="3.4"/>
<text class="t" transform="translate(1880.7 1566.1) scale(0.800 1)" x="0" y="0" style="font-size:25.5px" textLength="73.6" lengthAdjust="spacing">R225</text>
<text class="t" transform="translate(1881.6 1612.6) scale(0.800 1)" x="0" y="0" style="font-size:25.5px" textLength="71.8" lengthAdjust="spacing">47K5</text>
<line x1="2030.4" y1="1562.9" x2="2030.4" y2="1597.7" stroke-width="4"/>
<line x1="2042.8" y1="1562.9" x2="2042.8" y2="1597.7" stroke-width="4"/>
<line x1="2008.5" y1="1564.6" x2="2022.5" y2="1564.6" stroke-width="3.5"/>
<line x1="2015.5" y1="1557.6" x2="2015.5" y2="1571.6" stroke-width="3.5"/>
<text class="t" transform="translate(2006.8 1553.1) scale(0.800 1)" x="0" y="0" style="font-size:25.5px" textLength="65.3" lengthAdjust="spacing">C218</text>
<text class="t" transform="translate(1992.3 1624.1) scale(0.800 1)" x="0" y="0" style="font-size:25.5px" textLength="100.8" lengthAdjust="spacing">10uF/T</text>
<line x1="1852.8" y1="1639.8" x2="1970.6" y2="1639.8" stroke-width="3.4"/>
<line x1="1970.6" y1="1622.5" x2="1970.6" y2="1657.5" stroke-width="3.5"/>
<line x1="1981.4" y1="1622.5" x2="1981.4" y2="1657.5" stroke-width="3.5"/>
<line x1="1981.4" y1="1639.8" x2="2095.3" y2="1639.8" stroke-width="3.4"/>
<text class="t" transform="translate(1904 1669.2) scale(0.800 1)" x="0" y="0" style="font-size:25.5px" textLength="65.7" lengthAdjust="spacing">C217</text>
<text class="t" transform="translate(1987.2 1669.2) scale(0.800 1)" x="0" y="0" style="font-size:25.5px" textLength="86" lengthAdjust="spacing">220nF</text>
<polyline points="2010.9,1409.3 2095.3,1409.3 2095.3,1639.8" stroke-width="3.4"/>
<circle cx="2095.3" cy="1505.7" r="5.2" fill="#000" stroke="none"/>
<circle cx="2095.3" cy="1579" r="5.2" fill="#000" stroke="none"/>
<line x1="2042.8" y1="1579" x2="2255" y2="1579" stroke-width="3.4"/>
<circle cx="2204.5" cy="1579" r="5.2" fill="#000" stroke="none"/>
<line x1="2010.9" y1="1361.4" x2="2255" y2="1361.4" stroke-width="3.4"/>
<rect x="2256.8" y="1355.1" width="41.4" height="12.9" stroke-width="3.6" fill="#fff"/>
<line x1="2300" y1="1361.4" x2="2629.2" y2="1361.4" stroke-width="3.4"/>
<circle cx="2144" cy="1361.4" r="5.2" fill="#000" stroke="none"/>
<circle cx="2519.7" cy="1361.4" r="5.2" fill="#000" stroke="none"/>
<text class="t" transform="translate(2247.9 1348.7) scale(0.800 1)" x="0" y="0" style="font-size:25.5px" textLength="65.9" lengthAdjust="spacing">R221</text>
<text class="t" transform="translate(2243.8 1394.6) scale(0.800 1)" x="0" y="0" style="font-size:25.5px" textLength="73.6" lengthAdjust="spacing">4K75</text>
<line x1="2519.7" y1="1361.4" x2="2519.7" y2="1399.8" stroke-width="3.4"/>
<rect x="2513.1" y="1401.6" width="13.6" height="41.4" stroke-width="3.6" fill="#fff"/>
<polyline points="2519.7,1444.8 2519.7,1579 2466.4,1579" stroke-width="3.4"/>
<text class="t" transform="translate(2447.2 1416.3) scale(0.800 1)" x="0" y="0" style="font-size:25.5px" textLength="70.5" lengthAdjust="spacing">R220</text>
<text class="t" transform="translate(2447.2 1440.1) scale(0.800 1)" x="0" y="0" style="font-size:25.5px" textLength="70.5" lengthAdjust="spacing">220R</text>
<polyline points="2204.5,1579 2204.5,1494.4 2255,1494.4" stroke-width="3.4"/>
<rect x="2256.8" y="1488.8" width="41.4" height="11.5" stroke-width="3.6" fill="#fff"/>
<line x1="2300" y1="1494.4" x2="2452.5" y2="1494.4" stroke-width="3.4"/>
<polygon points="2467,1484.4 2467,1505.4 2452.5,1494.9" stroke-width="3.5" fill="#fff"/>
<line x1="2452.5" y1="1484.4" x2="2452.5" y2="1505.4" stroke-width="4.5"/>
<line x1="2467" y1="1494.4" x2="2519.7" y2="1494.4" stroke-width="3.4"/>
<circle cx="2410" cy="1494.4" r="5.2" fill="#000" stroke="none"/>
<circle cx="2519.7" cy="1494.4" r="5.2" fill="#000" stroke="none"/>
<text class="t" transform="translate(2244.8 1482.9) scale(0.800 1)" x="0" y="0" style="font-size:25.5px" textLength="72.4" lengthAdjust="spacing">R222</text>
<text class="t" transform="translate(2245.7 1529.4) scale(0.800 1)" x="0" y="0" style="font-size:25.5px" textLength="71.2" lengthAdjust="spacing">4K22</text>
<text class="t" transform="translate(2426.7 1476) scale(0.800 1)" x="0" y="0" style="font-size:25.5px" textLength="71.8" lengthAdjust="spacing">D206</text>
<text class="t" transform="translate(2413.1 1531) scale(0.800 1)" x="0" y="0" style="font-size:25.5px" textLength="95.7" lengthAdjust="spacing">1N4148</text>
<rect x="2256.8" y="1573.8" width="41.4" height="11.4" stroke-width="3.6" fill="#fff"/>
<line x1="2300" y1="1579" x2="2451.5" y2="1579" stroke-width="3.4"/>
<polygon points="2451.5,1568.2 2451.5,1590.8 2466.4,1579.5" stroke-width="3.5" fill="#fff"/>
<line x1="2466.4" y1="1568.2" x2="2466.4" y2="1590.8" stroke-width="4.5"/>
<circle cx="2336.8" cy="1579" r="5.2" fill="#000" stroke="none"/>
<text class="t" transform="translate(2244.8 1567.2) scale(0.800 1)" x="0" y="0" style="font-size:25.5px" textLength="72.4" lengthAdjust="spacing">R223</text>
<text class="t" transform="translate(2245.7 1613.1) scale(0.800 1)" x="0" y="0" style="font-size:25.5px" textLength="71.2" lengthAdjust="spacing">4K22</text>
<text class="t" transform="translate(2427.7 1559.8) scale(0.800 1)" x="0" y="0" style="font-size:25.5px" textLength="71.6" lengthAdjust="spacing">D207</text>
<text class="t" transform="translate(2423.6 1616.2) scale(0.800 1)" x="0" y="0" style="font-size:25.5px" textLength="95.4" lengthAdjust="spacing">1N4148</text>
<line x1="2144" y1="1361.4" x2="2144" y2="1671.4" stroke-width="3.4"/>
<line x1="2125.4" y1="1671.4" x2="2162" y2="1671.4" stroke-width="4"/>
<line x1="2125.4" y1="1684.4" x2="2162" y2="1684.4" stroke-width="4"/>
<line x1="2144" y1="1684.4" x2="2144" y2="1748.5" stroke-width="3.4"/>
<line x1="2151.6" y1="1656.5" x2="2165.6" y2="1656.5" stroke-width="3.5"/>
<line x1="2158.6" y1="1649.5" x2="2158.6" y2="1663.5" stroke-width="3.5"/>
<text class="t" transform="translate(2166.3 1684.4) scale(0.800 1)" x="0" y="0" style="font-size:25.5px" textLength="65.1" lengthAdjust="spacing">C215</text>
<text class="t" transform="translate(2156.4 1709.8) scale(0.800 1)" x="0" y="0" style="font-size:25.5px" textLength="82.1" lengthAdjust="spacing">1uF/T</text>
<line x1="2336.8" y1="1579" x2="2336.8" y2="1671.4" stroke-width="4.5"/>
<line x1="2320.1" y1="1671.4" x2="2356.3" y2="1671.4" stroke-width="4"/>
<line x1="2320.1" y1="1684.4" x2="2356.3" y2="1684.4" stroke-width="4"/>
<line x1="2336.8" y1="1684.4" x2="2336.8" y2="1748.5" stroke-width="4.5"/>
<line x1="2345.3" y1="1656.5" x2="2359.3" y2="1656.5" stroke-width="3.5"/>
<line x1="2352.3" y1="1649.5" x2="2352.3" y2="1663.5" stroke-width="3.5"/>
<text class="t" transform="translate(2274.8 1665.8) scale(0.800 1)" x="0" y="0" style="font-size:25.5px" textLength="64.4" lengthAdjust="spacing">C214</text>
<text class="t" transform="translate(2246.3 1709.8) scale(0.800 1)" x="0" y="0" style="font-size:25.5px" textLength="100.7" lengthAdjust="spacing">10uF/T</text>
<line x1="2410" y1="1494.4" x2="2410" y2="1671.4" stroke-width="3.4"/>
<line x1="2392" y1="1671.4" x2="2429.2" y2="1671.4" stroke-width="4"/>
<line x1="2392" y1="1684.4" x2="2429.2" y2="1684.4" stroke-width="4"/>
<line x1="2410" y1="1684.4" x2="2410" y2="1748.5" stroke-width="3.4"/>
<line x1="2417.6" y1="1656.5" x2="2431.6" y2="1656.5" stroke-width="3.5"/>
<line x1="2424.6" y1="1649.5" x2="2424.6" y2="1663.5" stroke-width="3.5"/>
<text class="t" transform="translate(2433.9 1684.4) scale(0.800 1)" x="0" y="0" style="font-size:25.5px" textLength="64.6" lengthAdjust="spacing">C213</text>
<text class="t" transform="translate(2432.3 1710.8) scale(0.800 1)" x="0" y="0" style="font-size:25.5px" textLength="100" lengthAdjust="spacing">10uF/T</text>
<line x1="847.4" y1="1748.8" x2="2568.3" y2="1748.8" stroke-width="3.4"/>
<circle cx="847.4" cy="1748.8" r="5.2" fill="#000" stroke="none"/>
<circle cx="919.7" cy="1748.8" r="5.2" fill="#000" stroke="none"/>
<circle cx="968" cy="1748.8" r="5.2" fill="#000" stroke="none"/>
<circle cx="1052.9" cy="1748.8" r="5.2" fill="#000" stroke="none"/>
<circle cx="1137.7" cy="1748.8" r="5.2" fill="#000" stroke="none"/>
<circle cx="1186" cy="1748.8" r="5.2" fill="#000" stroke="none"/>
<circle cx="1320.2" cy="1748.8" r="5.2" fill="#000" stroke="none"/>
<circle cx="1452.9" cy="1748.8" r="5.2" fill="#000" stroke="none"/>
<circle cx="1598.5" cy="1748.8" r="5.2" fill="#000" stroke="none"/>
<circle cx="1708" cy="1748.8" r="5.2" fill="#000" stroke="none"/>
<circle cx="2144" cy="1748.8" r="5.2" fill="#000" stroke="none"/>
<circle cx="2336.8" cy="1748.8" r="5.2" fill="#000" stroke="none"/>
<circle cx="2410" cy="1748.8" r="5.2" fill="#000" stroke="none"/>
<text class="t" transform="translate(1185.5 1824.1) scale(0.800 1)" x="0" y="0" style="font-size:23px;stroke-width:2.0px" textLength="414.3" lengthAdjust="spacing">Q205 ... MJW18020, BUR52, SU161</text>
<text class="t" transform="translate(2010 1858.5) scale(1.000 1)" x="0" y="0" style="font-size:74.6px;stroke-width:3.0px" textLength="533" lengthAdjust="spacing">A77-V1.d-opto</text>
<text class="t" transform="translate(2567 1858.5) scale(0.900 1)" x="0" y="0" style="font-size:30.5px;stroke-width:1.6px" textLength="145.6" lengthAdjust="spacing">00-11-08</text>
</svg>
</body></html>
